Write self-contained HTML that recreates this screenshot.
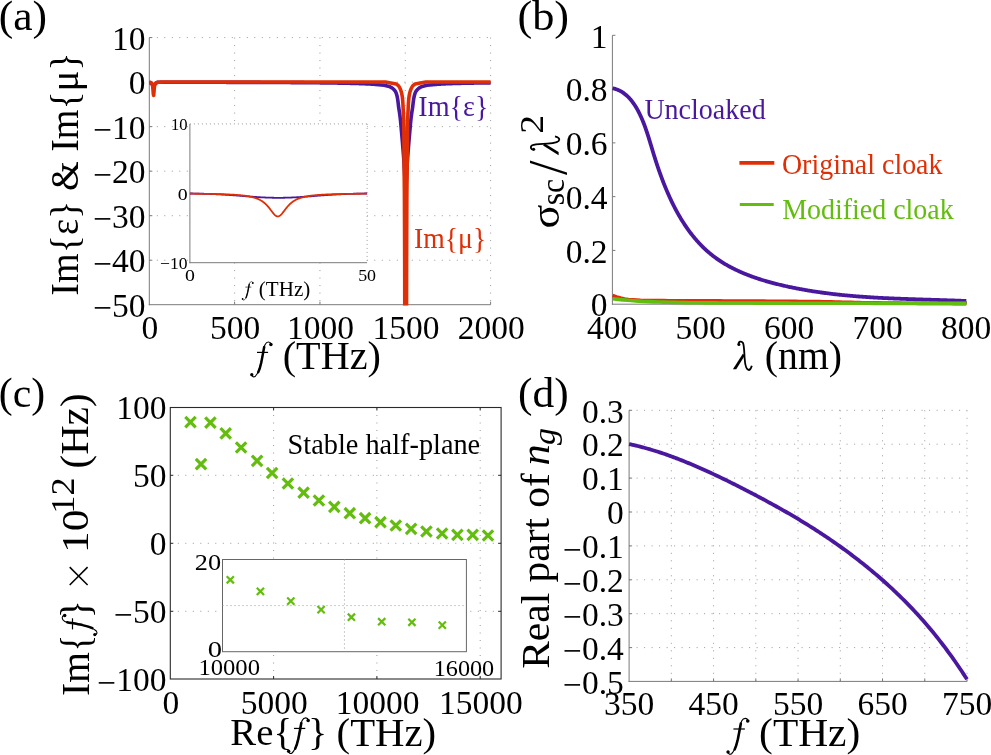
<!DOCTYPE html>
<html><head><meta charset="utf-8"><style>
html,body{margin:0;padding:0;background:#fff;}
svg{display:block;will-change:transform;}
text{font-family:"Liberation Serif", serif;}
</style></head><body>
<svg width="991" height="755" viewBox="0 0 991 755">
<rect width="991" height="755" fill="#fff"/>
<line x1="234.62" y1="37.57" x2="234.62" y2="304.70" stroke="#999999" stroke-width="1" stroke-dasharray="1,6.5"/>
<line x1="319.95" y1="37.57" x2="319.95" y2="304.70" stroke="#999999" stroke-width="1" stroke-dasharray="1,6.5"/>
<line x1="405.27" y1="37.57" x2="405.27" y2="304.70" stroke="#999999" stroke-width="1" stroke-dasharray="1,6.5"/>
<line x1="490.60" y1="37.57" x2="490.60" y2="304.70" stroke="#999999" stroke-width="1" stroke-dasharray="1,6.5"/>
<line x1="149.30" y1="37.57" x2="490.60" y2="37.57" stroke="#999999" stroke-width="1" stroke-dasharray="1,6.5"/>
<line x1="149.30" y1="82.10" x2="490.60" y2="82.10" stroke="#999999" stroke-width="1" stroke-dasharray="1,6.5"/>
<line x1="149.30" y1="126.63" x2="490.60" y2="126.63" stroke="#999999" stroke-width="1" stroke-dasharray="1,6.5"/>
<line x1="149.30" y1="171.16" x2="490.60" y2="171.16" stroke="#999999" stroke-width="1" stroke-dasharray="1,6.5"/>
<line x1="149.30" y1="215.69" x2="490.60" y2="215.69" stroke="#999999" stroke-width="1" stroke-dasharray="1,6.5"/>
<line x1="149.30" y1="260.22" x2="490.60" y2="260.22" stroke="#999999" stroke-width="1" stroke-dasharray="1,6.5"/>
<line x1="149.30" y1="37.57" x2="149.30" y2="305.20" stroke="#7a7a7a" stroke-width="1"/>
<line x1="148.80" y1="304.70" x2="490.60" y2="304.70" stroke="#7a7a7a" stroke-width="1"/>
<line x1="234.62" y1="304.70" x2="234.62" y2="301.70" stroke="#7a7a7a" stroke-width="1"/>
<line x1="319.95" y1="304.70" x2="319.95" y2="301.70" stroke="#7a7a7a" stroke-width="1"/>
<line x1="405.27" y1="304.70" x2="405.27" y2="301.70" stroke="#7a7a7a" stroke-width="1"/>
<line x1="490.60" y1="304.70" x2="490.60" y2="301.70" stroke="#7a7a7a" stroke-width="1"/>
<line x1="149.30" y1="37.57" x2="152.30" y2="37.57" stroke="#7a7a7a" stroke-width="1"/>
<line x1="149.30" y1="82.10" x2="152.30" y2="82.10" stroke="#7a7a7a" stroke-width="1"/>
<line x1="149.30" y1="126.63" x2="152.30" y2="126.63" stroke="#7a7a7a" stroke-width="1"/>
<line x1="149.30" y1="171.16" x2="152.30" y2="171.16" stroke="#7a7a7a" stroke-width="1"/>
<line x1="149.30" y1="215.69" x2="152.30" y2="215.69" stroke="#7a7a7a" stroke-width="1"/>
<line x1="149.30" y1="260.22" x2="152.30" y2="260.22" stroke="#7a7a7a" stroke-width="1"/>
<text x="145.60" y="49.57" font-size="33.5" text-anchor="end" fill="#000">10</text>
<text x="145.60" y="94.10" font-size="33.5" text-anchor="end" fill="#000">0</text>
<text x="145.60" y="138.63" font-size="33.5" text-anchor="end" fill="#000"><tspan dy="2.50">&#8722;</tspan><tspan dy="-2.50">10</tspan></text>
<text x="145.60" y="183.16" font-size="33.5" text-anchor="end" fill="#000"><tspan dy="2.50">&#8722;</tspan><tspan dy="-2.50">20</tspan></text>
<text x="145.60" y="227.69" font-size="33.5" text-anchor="end" fill="#000"><tspan dy="2.50">&#8722;</tspan><tspan dy="-2.50">30</tspan></text>
<text x="145.60" y="272.22" font-size="33.5" text-anchor="end" fill="#000"><tspan dy="2.50">&#8722;</tspan><tspan dy="-2.50">40</tspan></text>
<text x="145.60" y="316.75" font-size="33.5" text-anchor="end" fill="#000"><tspan dy="2.50">&#8722;</tspan><tspan dy="-2.50">50</tspan></text>
<text x="149.90" y="339.10" font-size="33.5" text-anchor="middle" fill="#000">0</text>
<text x="235.22" y="339.10" font-size="33.5" text-anchor="middle" fill="#000">500</text>
<text x="320.55" y="339.10" font-size="33.5" text-anchor="middle" fill="#000">1000</text>
<text x="405.88" y="339.10" font-size="33.5" text-anchor="middle" fill="#000">1500</text>
<text x="491.20" y="339.10" font-size="33.5" text-anchor="middle" fill="#000">2000</text>
<clipPath id="clipA"><rect x="140" y="0" width="360" height="305.50"/></clipPath>
<g clip-path="url(#clipA)">
<path d="M149.30,82.34 L149.62,82.41 L149.95,82.51 L150.27,82.65 L150.60,82.83 L150.92,83.07 L151.24,83.34 L151.57,83.66 L151.89,83.99 L152.21,84.32 L152.54,84.63 L152.86,84.87 L153.19,85.04 L153.51,85.11 L153.83,85.08 L154.16,84.94 L154.48,84.72 L154.80,84.43 L155.13,84.11 L155.45,83.77 L155.78,83.45 L156.10,83.16 L156.42,82.92 L156.75,82.71 L157.07,82.56 L157.40,82.45 L157.72,82.37 L158.04,82.31 L158.37,82.28 L158.69,82.25 L159.01,82.24 L159.34,82.23 L159.66,82.23 L159.99,82.23 L160.31,82.23 L160.63,82.23 L160.96,82.23 L161.28,82.23 L161.61,82.23 L161.93,82.23 L162.25,82.23 L162.58,82.23 L162.90,82.23 L163.22,82.23 L163.55,82.23 L163.87,82.23 L164.20,82.23 L164.52,82.23 L164.84,82.23 L165.17,82.23 L165.49,82.23 L165.81,82.23 L166.14,82.23 L166.46,82.23 L166.79,82.23 L167.11,82.23 L167.43,82.23 L167.76,82.23 L168.08,82.23 L168.41,82.24 L168.73,82.24 L169.05,82.24 L169.38,82.24 L169.70,82.24 L170.02,82.24 L170.35,82.24 L170.67,82.24 L171.00,82.24 L171.32,82.24 L171.64,82.24 L171.97,82.24 L172.29,82.24 L172.62,82.24 L172.94,82.24 L173.26,82.24 L173.59,82.24 L173.91,82.24 L174.23,82.24 L174.56,82.24 L174.88,82.24 L175.21,82.24 L175.53,82.24 L175.85,82.24 L176.18,82.24 L176.50,82.24 L176.82,82.24 L177.15,82.25 L177.47,82.25 L177.80,82.25 L178.12,82.25 L178.44,82.25 L178.77,82.25 L179.09,82.25 L179.42,82.25 L179.74,82.25 L180.06,82.25 L180.39,82.25 L180.71,82.25 L181.03,82.25 L181.36,82.25 L181.68,82.25 L182.01,82.25 L182.33,82.25 L182.65,82.25 L182.98,82.25 L183.30,82.25 L183.62,82.25 L183.95,82.25 L184.27,82.25 L184.60,82.25 L184.92,82.25 L185.24,82.26 L185.57,82.26 L185.89,82.26 L186.22,82.26 L186.54,82.26 L186.86,82.26 L187.19,82.26 L187.51,82.26 L187.83,82.26 L188.16,82.26 L188.48,82.26 L188.81,82.26 L189.13,82.26 L189.45,82.26 L189.78,82.26 L190.10,82.26 L190.43,82.26 L190.75,82.26 L191.07,82.26 L191.40,82.26 L191.72,82.26 L192.04,82.26 L192.37,82.26 L192.69,82.27 L193.02,82.27 L193.34,82.27 L193.66,82.27 L193.99,82.27 L194.31,82.27 L194.63,82.27 L194.96,82.27 L195.28,82.27 L195.61,82.27 L195.93,82.27 L196.25,82.27 L196.58,82.27 L196.90,82.27 L197.23,82.27 L197.55,82.27 L197.87,82.27 L198.20,82.27 L198.52,82.27 L198.84,82.27 L199.17,82.27 L199.49,82.28 L199.82,82.28 L200.14,82.28 L200.46,82.28 L200.79,82.28 L201.11,82.28 L201.43,82.28 L201.76,82.28 L202.08,82.28 L202.41,82.28 L202.73,82.28 L203.05,82.28 L203.38,82.28 L203.70,82.28 L204.03,82.28 L204.35,82.28 L204.67,82.28 L205.00,82.28 L205.32,82.28 L205.64,82.29 L205.97,82.29 L206.29,82.29 L206.62,82.29 L206.94,82.29 L207.26,82.29 L207.59,82.29 L207.91,82.29 L208.24,82.29 L208.56,82.29 L208.88,82.29 L209.21,82.29 L209.53,82.29 L209.85,82.29 L210.18,82.29 L210.50,82.29 L210.83,82.29 L211.15,82.29 L211.47,82.30 L211.80,82.30 L212.12,82.30 L212.44,82.30 L212.77,82.30 L213.09,82.30 L213.42,82.30 L213.74,82.30 L214.06,82.30 L214.39,82.30 L214.71,82.30 L215.04,82.30 L215.36,82.30 L215.68,82.30 L216.01,82.30 L216.33,82.30 L216.65,82.31 L216.98,82.31 L217.30,82.31 L217.63,82.31 L217.95,82.31 L218.27,82.31 L218.60,82.31 L218.92,82.31 L219.25,82.31 L219.57,82.31 L219.89,82.31 L220.22,82.31 L220.54,82.31 L220.86,82.31 L221.19,82.31 L221.51,82.32 L221.84,82.32 L222.16,82.32 L222.48,82.32 L222.81,82.32 L223.13,82.32 L223.45,82.32 L223.78,82.32 L224.10,82.32 L224.43,82.32 L224.75,82.32 L225.07,82.32 L225.40,82.32 L225.72,82.32 L226.05,82.32 L226.37,82.33 L226.69,82.33 L227.02,82.33 L227.34,82.33 L227.66,82.33 L227.99,82.33 L228.31,82.33 L228.64,82.33 L228.96,82.33 L229.28,82.33 L229.61,82.33 L229.93,82.33 L230.25,82.33 L230.58,82.34 L230.90,82.34 L231.23,82.34 L231.55,82.34 L231.87,82.34 L232.20,82.34 L232.52,82.34 L232.85,82.34 L233.17,82.34 L233.49,82.34 L233.82,82.34 L234.14,82.34 L234.46,82.34 L234.79,82.35 L235.11,82.35 L235.44,82.35 L235.76,82.35 L236.08,82.35 L236.41,82.35 L236.73,82.35 L237.06,82.35 L237.38,82.35 L237.70,82.35 L238.03,82.35 L238.35,82.35 L238.67,82.36 L239.00,82.36 L239.32,82.36 L239.65,82.36 L239.97,82.36 L240.29,82.36 L240.62,82.36 L240.94,82.36 L241.26,82.36 L241.59,82.36 L241.91,82.36 L242.24,82.37 L242.56,82.37 L242.88,82.37 L243.21,82.37 L243.53,82.37 L243.86,82.37 L244.18,82.37 L244.50,82.37 L244.83,82.37 L245.15,82.37 L245.47,82.37 L245.80,82.38 L246.12,82.38 L246.45,82.38 L246.77,82.38 L247.09,82.38 L247.42,82.38 L247.74,82.38 L248.07,82.38 L248.39,82.38 L248.71,82.38 L249.04,82.39 L249.36,82.39 L249.68,82.39 L250.01,82.39 L250.33,82.39 L250.66,82.39 L250.98,82.39 L251.30,82.39 L251.63,82.39 L251.95,82.40 L252.27,82.40 L252.60,82.40 L252.92,82.40 L253.25,82.40 L253.57,82.40 L253.89,82.40 L254.22,82.40 L254.54,82.40 L254.87,82.41 L255.19,82.41 L255.51,82.41 L255.84,82.41 L256.16,82.41 L256.48,82.41 L256.81,82.41 L257.13,82.41 L257.46,82.41 L257.78,82.42 L258.10,82.42 L258.43,82.42 L258.75,82.42 L259.07,82.42 L259.40,82.42 L259.72,82.42 L260.05,82.42 L260.37,82.42 L260.69,82.43 L261.02,82.43 L261.34,82.43 L261.67,82.43 L261.99,82.43 L262.31,82.43 L262.64,82.43 L262.96,82.43 L263.28,82.44 L263.61,82.44 L263.93,82.44 L264.26,82.44 L264.58,82.44 L264.90,82.44 L265.23,82.44 L265.55,82.45 L265.88,82.45 L266.20,82.45 L266.52,82.45 L266.85,82.45 L267.17,82.45 L267.49,82.45 L267.82,82.45 L268.14,82.46 L268.47,82.46 L268.79,82.46 L269.11,82.46 L269.44,82.46 L269.76,82.46 L270.08,82.46 L270.41,82.47 L270.73,82.47 L271.06,82.47 L271.38,82.47 L271.70,82.47 L272.03,82.47 L272.35,82.47 L272.68,82.48 L273.00,82.48 L273.32,82.48 L273.65,82.48 L273.97,82.48 L274.29,82.48 L274.62,82.49 L274.94,82.49 L275.27,82.49 L275.59,82.49 L275.91,82.49 L276.24,82.49 L276.56,82.50 L276.88,82.50 L277.21,82.50 L277.53,82.50 L277.86,82.50 L278.18,82.50 L278.50,82.50 L278.83,82.51 L279.15,82.51 L279.48,82.51 L279.80,82.51 L280.12,82.51 L280.45,82.52 L280.77,82.52 L281.09,82.52 L281.42,82.52 L281.74,82.52 L282.07,82.52 L282.39,82.53 L282.71,82.53 L283.04,82.53 L283.36,82.53 L283.69,82.53 L284.01,82.53 L284.33,82.54 L284.66,82.54 L284.98,82.54 L285.30,82.54 L285.63,82.54 L285.95,82.55 L286.28,82.55 L286.60,82.55 L286.92,82.55 L287.25,82.55 L287.57,82.56 L287.89,82.56 L288.22,82.56 L288.54,82.56 L288.87,82.56 L289.19,82.57 L289.51,82.57 L289.84,82.57 L290.16,82.57 L290.49,82.57 L290.81,82.58 L291.13,82.58 L291.46,82.58 L291.78,82.58 L292.10,82.58 L292.43,82.59 L292.75,82.59 L293.08,82.59 L293.40,82.59 L293.72,82.59 L294.05,82.60 L294.37,82.60 L294.70,82.60 L295.02,82.60 L295.34,82.61 L295.67,82.61 L295.99,82.61 L296.31,82.61 L296.64,82.62 L296.96,82.62 L297.29,82.62 L297.61,82.62 L297.93,82.62 L298.26,82.63 L298.58,82.63 L298.90,82.63 L299.23,82.63 L299.55,82.64 L299.88,82.64 L300.20,82.64 L300.52,82.64 L300.85,82.65 L301.17,82.65 L301.50,82.65 L301.82,82.65 L302.14,82.66 L302.47,82.66 L302.79,82.66 L303.11,82.66 L303.44,82.67 L303.76,82.67 L304.09,82.67 L304.41,82.68 L304.73,82.68 L305.06,82.68 L305.38,82.68 L305.70,82.69 L306.03,82.69 L306.35,82.69 L306.68,82.70 L307.00,82.70 L307.32,82.70 L307.65,82.70 L307.97,82.71 L308.30,82.71 L308.62,82.71 L308.94,82.72 L309.27,82.72 L309.59,82.72 L309.91,82.72 L310.24,82.73 L310.56,82.73 L310.89,82.73 L311.21,82.74 L311.53,82.74 L311.86,82.74 L312.18,82.75 L312.51,82.75 L312.83,82.75 L313.15,82.76 L313.48,82.76 L313.80,82.76 L314.12,82.77 L314.45,82.77 L314.77,82.77 L315.10,82.78 L315.42,82.78 L315.74,82.78 L316.07,82.79 L316.39,82.79 L316.71,82.79 L317.04,82.80 L317.36,82.80 L317.69,82.80 L318.01,82.81 L318.33,82.81 L318.66,82.81 L318.98,82.82 L319.31,82.82 L319.63,82.82 L319.95,82.83 L320.28,82.83 L320.60,82.84 L320.92,82.84 L321.25,82.84 L321.57,82.85 L321.90,82.85 L322.22,82.86 L322.54,82.86 L322.87,82.86 L323.19,82.87 L323.52,82.87 L323.84,82.88 L324.16,82.88 L324.49,82.88 L324.81,82.89 L325.13,82.89 L325.46,82.90 L325.78,82.90 L326.11,82.90 L326.43,82.91 L326.75,82.91 L327.08,82.92 L327.40,82.92 L327.72,82.93 L328.05,82.93 L328.37,82.94 L328.70,82.94 L329.02,82.94 L329.34,82.95 L329.67,82.95 L329.99,82.96 L330.32,82.96 L330.64,82.97 L330.96,82.97 L331.29,82.98 L331.61,82.98 L331.93,82.99 L332.26,82.99 L332.58,83.00 L332.91,83.00 L333.23,83.01 L333.55,83.01 L333.88,83.02 L334.20,83.02 L334.52,83.03 L334.85,83.03 L335.17,83.04 L335.50,83.04 L335.82,83.05 L336.14,83.05 L336.47,83.06 L336.79,83.06 L337.12,83.07 L337.44,83.07 L337.76,83.08 L338.09,83.09 L338.41,83.09 L338.73,83.10 L339.06,83.10 L339.38,83.11 L339.71,83.11 L340.03,83.12 L340.35,83.13 L340.68,83.13 L341.00,83.14 L341.33,83.14 L341.65,83.15 L341.97,83.16 L342.30,83.16 L342.62,83.17 L342.94,83.18 L343.27,83.18 L343.59,83.19 L343.92,83.20 L344.24,83.20 L344.56,83.21 L344.89,83.22 L345.21,83.22 L345.53,83.23 L345.86,83.24 L346.18,83.24 L346.51,83.25 L346.83,83.26 L347.15,83.26 L347.48,83.27 L347.80,83.28 L348.13,83.29 L348.45,83.29 L348.77,83.30 L349.10,83.31 L349.42,83.32 L349.74,83.32 L350.07,83.33 L350.39,83.34 L350.72,83.35 L351.04,83.35 L351.36,83.36 L351.69,83.37 L352.01,83.38 L352.33,83.39 L352.66,83.40 L352.98,83.40 L353.31,83.41 L353.63,83.42 L353.95,83.43 L354.28,83.44 L354.60,83.45 L354.93,83.46 L355.25,83.47 L355.57,83.48 L355.90,83.48 L356.22,83.49 L356.54,83.50 L356.87,83.51 L357.19,83.52 L357.52,83.53 L357.84,83.54 L358.16,83.55 L358.49,83.56 L358.81,83.57 L359.14,83.58 L359.46,83.59 L359.78,83.61 L360.11,83.62 L360.43,83.63 L360.75,83.64 L361.08,83.65 L361.40,83.66 L361.73,83.67 L362.05,83.68 L362.37,83.70 L362.70,83.71 L363.02,83.72 L363.34,83.73 L363.67,83.75 L363.99,83.76 L364.32,83.77 L364.64,83.78 L364.96,83.80 L365.29,83.81 L365.61,83.83 L365.94,83.84 L366.26,83.85 L366.58,83.87 L366.91,83.88 L367.23,83.90 L367.55,83.91 L367.88,83.93 L368.20,83.95 L368.53,83.96 L368.85,83.98 L369.17,83.99 L369.50,84.01 L369.82,84.03 L370.15,84.05 L370.47,84.06 L370.79,84.08 L371.12,84.10 L371.44,84.12 L371.76,84.14 L372.09,84.16 L372.41,84.18 L372.74,84.20 L373.06,84.22 L373.38,84.25 L373.71,84.27 L374.03,84.29 L374.35,84.31 L374.68,84.34 L375.00,84.36 L375.33,84.39 L375.65,84.41 L375.65,84.45 L384.18,85.29 L388.18,86.14 L390.42,86.98 L391.90,87.83 L392.99,88.67 L393.86,89.52 L394.62,90.36 L395.25,91.21 L395.73,92.05 L396.08,92.90 L396.39,93.74 L396.66,94.59 L396.89,95.43 L397.10,96.28 L397.28,97.12 L397.44,97.97 L397.59,98.81 L397.72,99.66 L397.84,100.50 L397.95,101.35 L398.06,102.19 L398.16,103.04 L398.26,103.88 L398.36,104.73 L398.46,105.57 L398.56,106.42 L398.67,107.26 L398.79,108.11 L398.92,108.95 L399.05,109.80 L399.19,110.64 L399.32,111.49 L399.45,112.33 L399.58,113.18 L399.70,114.02 L399.81,114.87 L399.92,115.71 L400.03,116.56 L400.14,117.40 L400.24,118.25 L400.34,119.09 L400.44,119.94 L400.53,120.78 L400.61,121.63 L400.69,122.47 L400.77,123.32 L400.85,124.16 L400.92,125.01 L400.99,125.85 L401.06,126.70 L401.14,127.54 L401.21,128.39 L401.29,129.23 L401.36,130.08 L401.44,130.92 L401.51,131.77 L401.59,132.61 L401.66,133.46 L401.74,134.30 L401.81,135.15 L401.89,135.99 L401.96,136.84 L402.03,137.68 L402.11,138.53 L402.18,139.37 L402.25,140.22 L402.32,141.06 L402.40,141.91 L402.47,142.75 L402.54,143.60 L402.60,144.44 L402.67,145.29 L402.74,146.13 L402.81,146.98 L402.88,147.82 L402.95,148.67 L403.02,149.51 L403.08,150.36 L403.15,151.20 L403.22,152.05 L403.29,152.89 L403.35,153.74 L403.42,154.58 L403.48,155.43 L403.55,156.27 L403.61,157.12 L403.68,157.96 L403.74,158.81 L403.80,159.65 L403.86,160.50 L403.92,161.34 L403.97,162.19 L404.03,163.03 L404.08,163.88 L404.13,164.72 L404.18,165.57 L404.23,166.41 L404.28,167.26 L404.33,168.10 L404.38,168.95 L404.43,169.79 L404.48,170.64 L404.52,171.48 L404.57,172.33 L404.61,173.17 L404.66,174.02 L404.70,174.86 L404.74,175.71 L404.78,176.55 L404.82,177.40 L404.86,178.24 L404.90,179.09 L404.94,179.93 L404.98,180.78 L405.01,181.62 L405.05,182.47 L405.08,183.31 L405.12,184.16 L405.15,185.00 L406.15,185.00 L406.18,184.16 L406.22,183.31 L406.25,182.47 L406.29,181.62 L406.32,180.78 L406.36,179.93 L406.40,179.09 L406.44,178.24 L406.48,177.40 L406.52,176.55 L406.56,175.71 L406.60,174.86 L406.64,174.02 L406.69,173.17 L406.73,172.33 L406.78,171.48 L406.82,170.64 L406.87,169.79 L406.92,168.95 L406.97,168.10 L407.02,167.26 L407.07,166.41 L407.12,165.57 L407.17,164.72 L407.22,163.88 L407.27,163.03 L407.33,162.19 L407.38,161.34 L407.44,160.50 L407.50,159.65 L407.56,158.81 L407.62,157.96 L407.69,157.12 L407.75,156.27 L407.82,155.43 L407.88,154.58 L407.95,153.74 L408.01,152.89 L408.08,152.05 L408.15,151.20 L408.22,150.36 L408.28,149.51 L408.35,148.67 L408.42,147.82 L408.49,146.98 L408.56,146.13 L408.63,145.29 L408.70,144.44 L408.76,143.60 L408.83,142.75 L408.90,141.91 L408.98,141.06 L409.05,140.22 L409.12,139.37 L409.19,138.53 L409.27,137.68 L409.34,136.84 L409.41,135.99 L409.49,135.15 L409.56,134.30 L409.64,133.46 L409.71,132.61 L409.79,131.77 L409.86,130.92 L409.94,130.08 L410.01,129.23 L410.09,128.39 L410.16,127.54 L410.24,126.70 L410.31,125.85 L410.38,125.01 L410.45,124.16 L410.53,123.32 L410.61,122.47 L410.69,121.63 L410.77,120.78 L410.86,119.94 L410.96,119.09 L411.06,118.25 L411.16,117.40 L411.27,116.56 L411.38,115.71 L411.49,114.87 L411.60,114.02 L411.72,113.18 L411.85,112.33 L411.98,111.49 L412.11,110.64 L412.25,109.80 L412.38,108.95 L412.51,108.11 L412.63,107.26 L412.74,106.42 L412.84,105.57 L412.94,104.73 L413.04,103.88 L413.14,103.04 L413.24,102.19 L413.35,101.35 L413.46,100.50 L413.58,99.66 L413.71,98.81 L413.86,97.97 L414.02,97.12 L414.20,96.28 L414.41,95.43 L414.64,94.59 L414.91,93.74 L415.22,92.90 L415.57,92.05 L416.05,91.21 L416.68,90.36 L417.44,89.52 L418.31,88.67 L419.40,87.83 L420.88,86.98 L423.12,86.14 L427.12,85.29 L435.65,84.45 L435.65,84.41 L435.93,84.39 L436.20,84.37 L436.48,84.35 L436.75,84.33 L437.03,84.31 L437.31,84.29 L437.58,84.27 L437.86,84.25 L438.14,84.23 L438.41,84.21 L438.69,84.19 L438.96,84.18 L439.24,84.16 L439.52,84.14 L439.79,84.13 L440.07,84.11 L440.34,84.09 L440.62,84.08 L440.90,84.06 L441.17,84.05 L441.45,84.03 L441.72,84.02 L442.00,84.00 L442.28,83.99 L442.55,83.97 L442.83,83.96 L443.11,83.94 L443.38,83.93 L443.66,83.92 L443.93,83.90 L444.21,83.89 L444.49,83.88 L444.76,83.87 L445.04,83.85 L445.31,83.84 L445.59,83.83 L445.87,83.82 L446.14,83.81 L446.42,83.79 L446.70,83.78 L446.97,83.77 L447.25,83.76 L447.52,83.75 L447.80,83.74 L448.08,83.73 L448.35,83.72 L448.63,83.71 L448.90,83.70 L449.18,83.69 L449.46,83.68 L449.73,83.67 L450.01,83.66 L450.28,83.65 L450.56,83.64 L450.84,83.63 L451.11,83.62 L451.39,83.61 L451.67,83.60 L451.94,83.59 L452.22,83.58 L452.49,83.57 L452.77,83.56 L453.05,83.56 L453.32,83.55 L453.60,83.54 L453.87,83.53 L454.15,83.52 L454.43,83.51 L454.70,83.51 L454.98,83.50 L455.26,83.49 L455.53,83.48 L455.81,83.47 L456.08,83.47 L456.36,83.46 L456.64,83.45 L456.91,83.44 L457.19,83.43 L457.46,83.43 L457.74,83.42 L458.02,83.41 L458.29,83.40 L458.57,83.40 L458.84,83.39 L459.12,83.38 L459.40,83.38 L459.67,83.37 L459.95,83.36 L460.23,83.36 L460.50,83.35 L460.78,83.34 L461.05,83.34 L461.33,83.33 L461.61,83.32 L461.88,83.32 L462.16,83.31 L462.43,83.30 L462.71,83.30 L462.99,83.29 L463.26,83.28 L463.54,83.28 L463.82,83.27 L464.09,83.27 L464.37,83.26 L464.64,83.25 L464.92,83.25 L465.20,83.24 L465.47,83.24 L465.75,83.23 L466.02,83.22 L466.30,83.22 L466.58,83.21 L466.85,83.21 L467.13,83.20 L467.41,83.20 L467.68,83.19 L467.96,83.18 L468.23,83.18 L468.51,83.17 L468.79,83.17 L469.06,83.16 L469.34,83.16 L469.61,83.15 L469.89,83.15 L470.17,83.14 L470.44,83.14 L470.72,83.13 L470.99,83.13 L471.27,83.12 L471.55,83.12 L471.82,83.11 L472.10,83.11 L472.38,83.10 L472.65,83.10 L472.93,83.09 L473.20,83.09 L473.48,83.08 L473.76,83.08 L474.03,83.07 L474.31,83.07 L474.58,83.06 L474.86,83.06 L475.14,83.05 L475.41,83.05 L475.69,83.04 L475.97,83.04 L476.24,83.04 L476.52,83.03 L476.79,83.03 L477.07,83.02 L477.35,83.02 L477.62,83.01 L477.90,83.01 L478.17,83.00 L478.45,83.00 L478.73,83.00 L479.00,82.99 L479.28,82.99 L479.55,82.98 L479.83,82.98 L480.11,82.98 L480.38,82.97 L480.66,82.97 L480.94,82.96 L481.21,82.96 L481.49,82.96 L481.76,82.95 L482.04,82.95 L482.32,82.94 L482.59,82.94 L482.87,82.94 L483.14,82.93 L483.42,82.93 L483.70,82.92 L483.97,82.92 L484.25,82.92 L484.53,82.91 L484.80,82.91 L485.08,82.91 L485.35,82.90 L485.63,82.90 L485.91,82.90 L486.18,82.89 L486.46,82.89 L486.73,82.88 L487.01,82.88 L487.29,82.88 L487.56,82.87 L487.84,82.87 L488.11,82.87 L488.39,82.86 L488.67,82.86 L488.94,82.86 L489.22,82.85 L489.50,82.85 L489.77,82.85 L490.05,82.84 L490.32,82.84 L490.60,82.84" fill="none" stroke="#49189e" stroke-width="3.6" stroke-linejoin="round" stroke-linecap="butt"/>
<path d="M149.30,82.29 L149.64,82.34 L149.98,82.39 L150.31,82.47 L150.65,82.58 L150.99,82.69 L151.33,82.97 L151.66,83.26 L152.00,83.92 L152.34,85.08 L152.68,86.24 L153.02,90.10 L153.35,94.26 L153.69,95.33 L154.03,91.16 L154.37,87.00 L154.71,85.38 L155.04,84.22 L155.38,83.33 L155.72,83.04 L156.06,82.75 L156.39,82.61 L156.73,82.50 L157.07,82.41 L157.41,82.35 L157.75,82.30 L158.08,82.27 L158.42,82.24 L158.76,82.21 L159.10,82.20 L159.44,82.18 L159.77,82.17 L160.11,82.15 L160.45,82.14 L160.79,82.14 L161.12,82.13 L161.46,82.12 L161.80,82.12 L162.14,82.05 L162.48,82.05 L162.81,82.05 L163.15,82.05 L163.49,82.05 L163.83,82.05 L164.16,82.05 L164.50,82.05 L164.84,82.05 L165.18,82.05 L165.52,82.05 L165.85,82.05 L166.19,82.05 L166.53,82.05 L166.87,82.05 L167.21,82.05 L167.54,82.05 L167.88,82.05 L168.22,82.05 L168.56,82.05 L168.89,82.05 L169.23,82.05 L169.57,82.05 L169.91,82.05 L170.25,82.05 L170.58,82.05 L170.92,82.05 L171.26,82.05 L171.60,82.05 L171.94,82.05 L172.27,82.05 L172.61,82.05 L172.95,82.05 L173.29,82.05 L173.62,82.05 L173.96,82.05 L174.30,82.05 L174.64,82.05 L174.98,82.05 L175.31,82.05 L175.65,82.05 L175.99,82.05 L176.33,82.05 L176.67,82.05 L177.00,82.05 L177.34,82.05 L177.68,82.05 L178.02,82.05 L178.35,82.05 L178.69,82.05 L179.03,82.05 L179.37,82.05 L179.71,82.05 L180.04,82.05 L180.38,82.05 L180.72,82.05 L181.06,82.05 L181.39,82.05 L181.73,82.05 L182.07,82.05 L182.41,82.05 L182.75,82.05 L183.08,82.05 L183.42,82.05 L183.76,82.05 L184.10,82.05 L184.44,82.05 L184.77,82.05 L185.11,82.05 L185.45,82.05 L185.79,82.05 L186.12,82.05 L186.46,82.05 L186.80,82.05 L187.14,82.05 L187.48,82.05 L187.81,82.05 L188.15,82.05 L188.49,82.05 L188.83,82.05 L189.17,82.05 L189.50,82.05 L189.84,82.05 L190.18,82.05 L190.52,82.05 L190.85,82.05 L191.19,82.05 L191.53,82.05 L191.87,82.05 L192.21,82.05 L192.54,82.05 L192.88,82.05 L193.22,82.05 L193.56,82.05 L193.89,82.05 L194.23,82.05 L194.57,82.05 L194.91,82.05 L195.25,82.05 L195.58,82.05 L195.92,82.05 L196.26,82.05 L196.60,82.05 L196.94,82.05 L197.27,82.05 L197.61,82.05 L197.95,82.05 L198.29,82.05 L198.62,82.05 L198.96,82.05 L199.30,82.05 L199.64,82.05 L199.98,82.05 L200.31,82.05 L200.65,82.05 L200.99,82.05 L201.33,82.05 L201.67,82.05 L202.00,82.05 L202.34,82.05 L202.68,82.05 L203.02,82.05 L203.35,82.05 L203.69,82.05 L204.03,82.05 L204.37,82.05 L204.71,82.05 L205.04,82.05 L205.38,82.05 L205.72,82.05 L206.06,82.05 L206.39,82.05 L206.73,82.05 L207.07,82.05 L207.41,82.05 L207.75,82.05 L208.08,82.05 L208.42,82.05 L208.76,82.05 L209.10,82.05 L209.44,82.05 L209.77,82.05 L210.11,82.05 L210.45,82.05 L210.79,82.05 L211.12,82.05 L211.46,82.05 L211.80,82.05 L212.14,82.05 L212.48,82.05 L212.81,82.05 L213.15,82.05 L213.49,82.05 L213.83,82.05 L214.17,82.05 L214.50,82.05 L214.84,82.05 L215.18,82.05 L215.52,82.05 L215.85,82.05 L216.19,82.05 L216.53,82.05 L216.87,82.05 L217.21,82.05 L217.54,82.05 L217.88,82.05 L218.22,82.05 L218.56,82.05 L218.89,82.05 L219.23,82.05 L219.57,82.05 L219.91,82.05 L220.25,82.05 L220.58,82.05 L220.92,82.05 L221.26,82.05 L221.60,82.05 L221.94,82.05 L222.27,82.05 L222.61,82.05 L222.95,82.05 L223.29,82.05 L223.62,82.05 L223.96,82.05 L224.30,82.05 L224.64,82.05 L224.98,82.05 L225.31,82.05 L225.65,82.05 L225.99,82.05 L226.33,82.05 L226.67,82.05 L227.00,82.05 L227.34,82.05 L227.68,82.05 L228.02,82.05 L228.35,82.05 L228.69,82.05 L229.03,82.05 L229.37,82.05 L229.71,82.05 L230.04,82.05 L230.38,82.05 L230.72,82.05 L231.06,82.05 L231.40,82.05 L231.73,82.05 L232.07,82.05 L232.41,82.05 L232.75,82.05 L233.08,82.05 L233.42,82.05 L233.76,82.05 L234.10,82.05 L234.44,82.05 L234.77,82.05 L235.11,82.05 L235.45,82.05 L235.79,82.05 L236.12,82.05 L236.46,82.05 L236.80,82.05 L237.14,82.05 L237.48,82.05 L237.81,82.05 L238.15,82.05 L238.49,82.05 L238.83,82.05 L239.17,82.05 L239.50,82.05 L239.84,82.05 L240.18,82.05 L240.52,82.05 L240.85,82.05 L241.19,82.05 L241.53,82.05 L241.87,82.05 L242.21,82.05 L242.54,82.05 L242.88,82.05 L243.22,82.05 L243.56,82.05 L243.90,82.05 L244.23,82.05 L244.57,82.05 L244.91,82.05 L245.25,82.05 L245.58,82.05 L245.92,82.05 L246.26,82.05 L246.60,82.05 L246.94,82.05 L247.27,82.05 L247.61,82.05 L247.95,82.05 L248.29,82.05 L248.62,82.05 L248.96,82.05 L249.30,82.05 L249.64,82.05 L249.98,82.05 L250.31,82.05 L250.65,82.05 L250.99,82.05 L251.33,82.05 L251.67,82.05 L252.00,82.05 L252.34,82.05 L252.68,82.05 L253.02,82.05 L253.35,82.05 L253.69,82.05 L254.03,82.05 L254.37,82.05 L254.71,82.05 L255.04,82.05 L255.38,82.05 L255.72,82.05 L256.06,82.05 L256.40,82.05 L256.73,82.05 L257.07,82.05 L257.41,82.05 L257.75,82.05 L258.08,82.05 L258.42,82.05 L258.76,82.05 L259.10,82.05 L259.44,82.05 L259.77,82.05 L260.11,82.05 L260.45,82.05 L260.79,82.05 L261.12,82.05 L261.46,82.05 L261.80,82.05 L262.14,82.05 L262.48,82.05 L262.81,82.05 L263.15,82.05 L263.49,82.05 L263.83,82.05 L264.17,82.05 L264.50,82.05 L264.84,82.05 L265.18,82.05 L265.52,82.05 L265.85,82.05 L266.19,82.05 L266.53,82.05 L266.87,82.05 L267.21,82.05 L267.54,82.05 L267.88,82.05 L268.22,82.05 L268.56,82.05 L268.90,82.05 L269.23,82.05 L269.57,82.05 L269.91,82.05 L270.25,82.05 L270.58,82.05 L270.92,82.05 L271.26,82.05 L271.60,82.05 L271.94,82.05 L272.27,82.05 L272.61,82.05 L272.95,82.05 L273.29,82.05 L273.63,82.05 L273.96,82.05 L274.30,82.05 L274.64,82.05 L274.98,82.05 L275.31,82.05 L275.65,82.05 L275.99,82.05 L276.33,82.05 L276.67,82.05 L277.00,82.05 L277.34,82.05 L277.68,82.05 L278.02,82.05 L278.35,82.05 L278.69,82.05 L279.03,82.05 L279.37,82.05 L279.71,82.05 L280.04,82.05 L280.38,82.05 L280.72,82.05 L281.06,82.05 L281.40,82.05 L281.73,82.05 L282.07,82.05 L282.41,82.05 L282.75,82.05 L283.08,82.05 L283.42,82.05 L283.76,82.05 L284.10,82.05 L284.44,82.05 L284.77,82.05 L285.11,82.05 L285.45,82.05 L285.79,82.05 L286.13,82.05 L286.46,82.05 L286.80,82.05 L287.14,82.05 L287.48,82.05 L287.81,82.05 L288.15,82.05 L288.49,82.05 L288.83,82.05 L289.17,82.05 L289.50,82.05 L289.84,82.05 L290.18,82.05 L290.52,82.05 L290.85,82.05 L291.19,82.05 L291.53,82.05 L291.87,82.05 L292.21,82.05 L292.54,82.05 L292.88,82.05 L293.22,82.05 L293.56,82.05 L293.90,82.05 L294.23,82.05 L294.57,82.05 L294.91,82.05 L295.25,82.05 L295.58,82.05 L295.92,82.05 L296.26,82.05 L296.60,82.05 L296.94,82.05 L297.27,82.05 L297.61,82.05 L297.95,82.05 L298.29,82.05 L298.63,82.05 L298.96,82.05 L299.30,82.05 L299.64,82.05 L299.98,82.05 L300.31,82.05 L300.65,82.05 L300.99,82.05 L301.33,82.05 L301.67,82.05 L302.00,82.05 L302.34,82.05 L302.68,82.05 L303.02,82.05 L303.35,82.05 L303.69,82.05 L304.03,82.05 L304.37,82.05 L304.71,82.05 L305.04,82.05 L305.38,82.05 L305.72,82.05 L306.06,82.05 L306.40,82.05 L306.73,82.05 L307.07,82.05 L307.41,82.05 L307.75,82.05 L308.08,82.05 L308.42,82.05 L308.76,82.05 L309.10,82.05 L309.44,82.05 L309.77,82.05 L310.11,82.05 L310.45,82.05 L310.79,82.05 L311.13,82.05 L311.46,82.05 L311.80,82.05 L312.14,82.05 L312.48,82.05 L312.81,82.05 L313.15,82.05 L313.49,82.05 L313.83,82.05 L314.17,82.05 L314.50,82.05 L314.84,82.05 L315.18,82.05 L315.52,82.05 L315.86,82.05 L316.19,82.05 L316.53,82.05 L316.87,82.05 L317.21,82.05 L317.54,82.05 L317.88,82.05 L318.22,82.05 L318.56,82.05 L318.90,82.05 L319.23,82.05 L319.57,82.05 L319.91,82.05 L320.25,82.05 L320.58,82.05 L320.92,82.05 L321.26,82.05 L321.60,82.05 L321.94,82.05 L322.27,82.05 L322.61,82.05 L322.95,82.05 L323.29,82.05 L323.63,82.05 L323.96,82.05 L324.30,82.05 L324.64,82.05 L324.98,82.05 L325.31,82.05 L325.65,82.05 L325.99,82.05 L326.33,82.05 L326.67,82.05 L327.00,82.05 L327.34,82.05 L327.68,82.05 L328.02,82.05 L328.36,82.05 L328.69,82.05 L329.03,82.05 L329.37,82.05 L329.71,82.05 L330.04,82.05 L330.38,82.05 L330.72,82.05 L331.06,82.05 L331.40,82.05 L331.73,82.05 L332.07,82.05 L332.41,82.05 L332.75,82.05 L333.08,82.05 L333.42,82.05 L333.76,82.05 L334.10,82.05 L334.44,82.05 L334.77,82.05 L335.11,82.05 L335.45,82.05 L335.79,82.05 L336.13,82.05 L336.46,82.05 L336.80,82.05 L337.14,82.05 L337.48,82.05 L337.81,82.05 L338.15,82.05 L338.49,82.05 L338.83,82.05 L339.17,82.05 L339.50,82.05 L339.84,82.05 L340.18,82.05 L340.52,82.05 L340.86,82.05 L341.19,82.05 L341.53,82.05 L341.87,82.05 L342.21,82.05 L342.54,82.05 L342.88,82.05 L343.22,82.05 L343.56,82.05 L343.90,82.05 L344.23,82.05 L344.57,82.05 L344.91,82.05 L345.25,82.05 L345.58,82.05 L345.92,82.05 L346.26,82.05 L346.60,82.05 L346.94,82.05 L347.27,82.05 L347.61,82.05 L347.95,82.05 L348.29,82.05 L348.63,82.05 L348.96,82.05 L349.30,82.05 L349.64,82.05 L349.98,82.05 L350.31,82.05 L350.65,82.05 L350.99,82.05 L351.33,82.05 L351.67,82.05 L352.00,82.05 L352.34,82.05 L352.68,82.05 L353.02,82.05 L353.36,82.05 L353.69,82.05 L354.03,82.05 L354.37,82.05 L354.71,82.05 L355.04,82.05 L355.38,82.05 L355.72,82.05 L356.06,82.05 L356.40,82.05 L356.73,82.05 L357.07,82.05 L357.41,82.05 L357.75,82.05 L358.08,82.05 L358.42,82.05 L358.76,82.05 L359.10,82.05 L359.44,82.05 L359.77,82.05 L360.11,82.05 L360.45,82.05 L360.79,82.05 L361.13,82.05 L361.46,82.05 L361.80,82.05 L362.14,82.05 L362.48,82.05 L362.81,82.05 L363.15,82.05 L363.49,82.05 L363.83,82.05 L364.17,82.05 L364.50,82.05 L364.84,82.05 L365.18,82.05 L365.52,82.05 L365.86,82.05 L366.19,82.05 L366.53,82.05 L366.87,82.05 L367.21,82.05 L367.54,82.05 L367.88,82.05 L368.22,82.05 L368.56,82.05 L368.90,82.05 L369.23,82.05 L369.57,82.05 L369.91,82.05 L370.25,82.05 L370.59,82.05 L370.92,82.05 L371.26,82.05 L371.60,82.05 L371.94,82.05 L372.27,82.05 L372.61,82.05 L372.95,82.05 L373.29,82.05 L373.63,82.05 L373.96,82.05 L374.30,82.05 L374.64,82.05 L374.98,82.05 L375.31,82.05 L375.65,82.05 L375.99,82.05 L376.33,82.05 L376.67,82.05 L377.00,82.05 L377.34,82.05 L377.68,82.05 L378.02,82.05 L378.36,82.05 L378.69,82.05 L379.03,82.05 L379.37,82.05 L379.71,82.05 L380.04,82.05 L380.38,82.05 L380.72,82.05 L381.06,82.05 L381.40,82.05 L381.73,82.05 L382.07,82.05 L382.41,82.05 L382.75,82.05 L383.09,82.05 L383.42,82.05 L383.76,82.05 L384.10,82.05 L384.44,82.05 L384.77,82.05 L385.11,82.05 L385.45,82.05 L385.45,82.05 L396.24,83.98 L398.59,85.91 L399.78,87.85 L400.60,89.78 L401.23,91.71 L401.73,93.64 L402.10,95.58 L402.38,97.51 L402.59,99.44 L402.75,101.37 L402.88,103.31 L402.99,105.24 L403.08,107.17 L403.16,109.10 L403.25,111.04 L403.34,112.97 L403.43,114.90 L403.52,116.83 L403.59,118.76 L403.66,120.70 L403.71,122.63 L403.75,124.56 L403.78,126.49 L403.80,128.43 L403.83,130.36 L403.85,132.29 L403.87,134.22 L403.88,136.16 L403.90,138.09 L403.91,140.02 L403.92,141.95 L403.94,143.89 L403.95,145.82 L403.96,147.75 L403.97,149.68 L403.99,151.61 L404.00,153.55 L404.01,155.48 L404.03,157.41 L404.04,159.34 L404.06,161.28 L404.08,163.21 L404.10,165.14 L404.12,167.07 L404.14,169.01 L404.17,170.94 L404.19,172.87 L404.21,174.80 L404.23,176.74 L404.26,178.67 L404.28,180.60 L404.30,182.53 L404.32,184.46 L404.34,186.40 L404.36,188.33 L404.38,190.26 L404.40,192.19 L404.41,194.13 L404.43,196.06 L404.44,197.99 L404.45,199.92 L404.46,201.86 L404.47,203.79 L404.48,205.72 L404.48,207.65 L404.49,209.59 L404.50,211.52 L404.51,213.45 L404.52,215.38 L404.53,217.31 L404.53,219.25 L404.54,221.18 L404.55,223.11 L404.56,225.04 L404.57,226.98 L404.57,228.91 L404.58,230.84 L404.59,232.77 L404.60,234.71 L404.60,236.64 L404.61,238.57 L404.62,240.50 L404.62,242.44 L404.63,244.37 L404.64,246.30 L404.64,248.23 L404.65,250.16 L404.65,252.10 L404.66,254.03 L404.66,255.96 L404.67,257.89 L404.68,259.83 L404.68,261.76 L404.69,263.69 L404.69,265.62 L404.70,267.56 L404.70,269.49 L404.70,271.42 L404.71,273.35 L404.71,275.29 L404.72,277.22 L404.72,279.15 L404.72,281.08 L404.73,283.01 L404.73,284.95 L404.73,286.88 L404.73,288.81 L404.74,290.74 L404.74,292.68 L404.74,294.61 L404.74,296.54 L404.74,298.47 L404.75,300.41 L404.75,302.34 L404.75,304.27 L404.75,306.20 L404.75,308.14 L404.75,310.07 L404.75,312.00 L406.55,312.00 L406.55,310.07 L406.55,308.14 L406.55,306.20 L406.55,304.27 L406.55,302.34 L406.55,300.41 L406.56,298.47 L406.56,296.54 L406.56,294.61 L406.56,292.68 L406.56,290.74 L406.57,288.81 L406.57,286.88 L406.57,284.95 L406.57,283.01 L406.58,281.08 L406.58,279.15 L406.58,277.22 L406.59,275.29 L406.59,273.35 L406.60,271.42 L406.60,269.49 L406.60,267.56 L406.61,265.62 L406.61,263.69 L406.62,261.76 L406.62,259.83 L406.63,257.89 L406.64,255.96 L406.64,254.03 L406.65,252.10 L406.65,250.16 L406.66,248.23 L406.66,246.30 L406.67,244.37 L406.68,242.44 L406.68,240.50 L406.69,238.57 L406.70,236.64 L406.70,234.71 L406.71,232.77 L406.72,230.84 L406.73,228.91 L406.73,226.98 L406.74,225.04 L406.75,223.11 L406.76,221.18 L406.77,219.25 L406.77,217.31 L406.78,215.38 L406.79,213.45 L406.80,211.52 L406.81,209.59 L406.82,207.65 L406.82,205.72 L406.83,203.79 L406.84,201.86 L406.85,199.92 L406.86,197.99 L406.87,196.06 L406.89,194.13 L406.90,192.19 L406.92,190.26 L406.94,188.33 L406.96,186.40 L406.98,184.46 L407.00,182.53 L407.02,180.60 L407.04,178.67 L407.07,176.74 L407.09,174.80 L407.11,172.87 L407.13,170.94 L407.16,169.01 L407.18,167.07 L407.20,165.14 L407.22,163.21 L407.24,161.28 L407.26,159.34 L407.27,157.41 L407.29,155.48 L407.30,153.55 L407.31,151.61 L407.33,149.68 L407.34,147.75 L407.35,145.82 L407.36,143.89 L407.38,141.95 L407.39,140.02 L407.40,138.09 L407.42,136.16 L407.43,134.22 L407.45,132.29 L407.47,130.36 L407.50,128.43 L407.52,126.49 L407.55,124.56 L407.59,122.63 L407.64,120.70 L407.71,118.76 L407.78,116.83 L407.87,114.90 L407.96,112.97 L408.05,111.04 L408.14,109.10 L408.22,107.17 L408.31,105.24 L408.42,103.31 L408.55,101.37 L408.71,99.44 L408.92,97.51 L409.20,95.58 L409.57,93.64 L410.07,91.71 L410.70,89.78 L411.52,87.85 L412.71,85.91 L415.06,83.98 L425.85,82.05 L425.85,82.05 L426.18,82.05 L426.50,82.05 L426.83,82.05 L427.15,82.05 L427.48,82.05 L427.80,82.05 L428.13,82.05 L428.45,82.05 L428.78,82.05 L429.10,82.05 L429.43,82.05 L429.75,82.05 L430.08,82.05 L430.41,82.05 L430.73,82.05 L431.06,82.05 L431.38,82.05 L431.71,82.05 L432.03,82.05 L432.36,82.05 L432.68,82.05 L433.01,82.05 L433.33,82.05 L433.66,82.05 L433.98,82.05 L434.31,82.05 L434.64,82.05 L434.96,82.05 L435.29,82.05 L435.61,82.05 L435.94,82.05 L436.26,82.05 L436.59,82.05 L436.91,82.05 L437.24,82.05 L437.56,82.05 L437.89,82.05 L438.21,82.05 L438.54,82.05 L438.87,82.05 L439.19,82.05 L439.52,82.05 L439.84,82.05 L440.17,82.05 L440.49,82.05 L440.82,82.05 L441.14,82.05 L441.47,82.05 L441.79,82.05 L442.12,82.05 L442.44,82.05 L442.77,82.05 L443.09,82.05 L443.42,82.05 L443.75,82.05 L444.07,82.05 L444.40,82.05 L444.72,82.05 L445.05,82.05 L445.37,82.05 L445.70,82.05 L446.02,82.05 L446.35,82.05 L446.67,82.05 L447.00,82.05 L447.32,82.05 L447.65,82.05 L447.98,82.05 L448.30,82.05 L448.63,82.05 L448.95,82.05 L449.28,82.05 L449.60,82.05 L449.93,82.05 L450.25,82.05 L450.58,82.05 L450.90,82.05 L451.23,82.05 L451.55,82.05 L451.88,82.05 L452.21,82.05 L452.53,82.05 L452.86,82.05 L453.18,82.05 L453.51,82.05 L453.83,82.05 L454.16,82.05 L454.48,82.05 L454.81,82.05 L455.13,82.05 L455.46,82.05 L455.78,82.05 L456.11,82.05 L456.44,82.05 L456.76,82.05 L457.09,82.05 L457.41,82.05 L457.74,82.05 L458.06,82.05 L458.39,82.05 L458.71,82.05 L459.04,82.05 L459.36,82.05 L459.69,82.05 L460.01,82.05 L460.34,82.05 L460.67,82.05 L460.99,82.05 L461.32,82.05 L461.64,82.05 L461.97,82.05 L462.29,82.05 L462.62,82.05 L462.94,82.05 L463.27,82.05 L463.59,82.05 L463.92,82.05 L464.24,82.05 L464.57,82.05 L464.90,82.05 L465.22,82.05 L465.55,82.05 L465.87,82.05 L466.20,82.05 L466.52,82.05 L466.85,82.05 L467.17,82.05 L467.50,82.05 L467.82,82.05 L468.15,82.05 L468.47,82.05 L468.80,82.05 L469.13,82.05 L469.45,82.05 L469.78,82.05 L470.10,82.05 L470.43,82.05 L470.75,82.05 L471.08,82.05 L471.40,82.05 L471.73,82.05 L472.05,82.05 L472.38,82.05 L472.70,82.05 L473.03,82.05 L473.36,82.05 L473.68,82.05 L474.01,82.05 L474.33,82.05 L474.66,82.05 L474.98,82.05 L475.31,82.05 L475.63,82.05 L475.96,82.05 L476.28,82.05 L476.61,82.05 L476.93,82.05 L477.26,82.05 L477.58,82.05 L477.91,82.05 L478.24,82.05 L478.56,82.05 L478.89,82.05 L479.21,82.05 L479.54,82.05 L479.86,82.05 L480.19,82.05 L480.51,82.05 L480.84,82.05 L481.16,82.05 L481.49,82.05 L481.81,82.05 L482.14,82.05 L482.47,82.05 L482.79,82.05 L483.12,82.05 L483.44,82.05 L483.77,82.05 L484.09,82.05 L484.42,82.05 L484.74,82.05 L485.07,82.05 L485.39,82.05 L485.72,82.05 L486.04,82.05 L486.37,82.05 L486.70,82.05 L487.02,82.05 L487.35,82.05 L487.67,82.05 L488.00,82.05 L488.32,82.05 L488.65,82.05 L488.97,82.05 L489.30,82.05 L489.62,82.05 L489.95,82.05 L490.27,82.05 L490.60,82.05" fill="none" stroke="#df2f06" stroke-width="3.6" stroke-linejoin="round" stroke-linecap="butt"/>
</g>
<text x="418.28" y="116.20" font-size="29.5" fill="#49189e" textLength="70.18" lengthAdjust="spacingAndGlyphs">Im{ε}</text>
<text x="414.10" y="247.80" font-size="29.5" fill="#df2f06" textLength="72.11" lengthAdjust="spacingAndGlyphs">Im{μ}</text>
<text x="-1.31" y="29.50" font-size="43" fill="#000" textLength="48.33" lengthAdjust="spacingAndGlyphs">(a)</text>
<g transform="translate(249.90,368.90) scale(1.0000)" fill="#000" stroke="#000"><path d="M21.0,-24.8 C20.8,-27.2 17.0,-28.0 15.1,-24.2 C13.8,-21.5 12.8,-14 11.5,-8 C10.3,-2.5 8.5,4.5 5.5,7.3 C4.0,8.5 2.2,8.2 1.9,5.8" fill="none" stroke-width="1.1"/><path d="M14.3,-21.8 C13.3,-16.5 12.4,-11.5 11.4,-6.5 C10.5,-2.5 9.4,1.2 8.3,3.4" fill="none" stroke-width="2.5" stroke-linecap="round"/><circle cx="21.0" cy="-24.3" r="1.75" stroke="none"/><circle cx="1.9" cy="5.8" r="1.65" stroke="none"/><path d="M7.1,-16.5 L18.2,-16.5" stroke-width="1.2"/></g>
<text x="282.73" y="368.90" font-size="40" fill="#000" textLength="98.23" lengthAdjust="spacingAndGlyphs">(THz)</text>
<text x="77.80" y="295.68" font-size="40" fill="#000" textLength="243.35" lengthAdjust="spacingAndGlyphs" transform="rotate(-90 77.80 295.68)">Im{ε} &amp; Im{μ}</text>
<rect x="189.9" y="123.9" width="177.20000000000002" height="138.79999999999998" fill="#fff"/>
<line x1="189.90" y1="123.90" x2="367.10" y2="123.90" stroke="#999999" stroke-width="1" stroke-dasharray="1,3"/>
<line x1="367.10" y1="123.90" x2="367.10" y2="262.70" stroke="#999999" stroke-width="1" stroke-dasharray="1,3"/>
<line x1="189.90" y1="123.90" x2="189.90" y2="263.20" stroke="#7a7a7a" stroke-width="1"/>
<line x1="189.40" y1="262.70" x2="367.10" y2="262.70" stroke="#7a7a7a" stroke-width="1"/>
<path d="M189.90,193.49 L190.34,193.49 L190.79,193.50 L191.23,193.50 L191.68,193.51 L192.12,193.52 L192.56,193.52 L193.01,193.53 L193.45,193.54 L193.90,193.55 L194.34,193.55 L194.79,193.56 L195.23,193.57 L195.67,193.58 L196.12,193.59 L196.56,193.60 L197.01,193.60 L197.45,193.61 L197.89,193.62 L198.34,193.63 L198.78,193.64 L199.23,193.65 L199.67,193.66 L200.11,193.67 L200.56,193.68 L201.00,193.69 L201.45,193.70 L201.89,193.72 L202.34,193.73 L202.78,193.74 L203.22,193.75 L203.67,193.76 L204.11,193.78 L204.56,193.79 L205.00,193.80 L205.44,193.82 L205.89,193.83 L206.33,193.84 L206.78,193.86 L207.22,193.87 L207.66,193.89 L208.11,193.90 L208.55,193.92 L209.00,193.93 L209.44,193.95 L209.88,193.97 L210.33,193.98 L210.77,194.00 L211.22,194.02 L211.66,194.03 L212.11,194.05 L212.55,194.07 L212.99,194.09 L213.44,194.11 L213.88,194.13 L214.33,194.15 L214.77,194.17 L215.21,194.19 L215.66,194.21 L216.10,194.23 L216.55,194.25 L216.99,194.27 L217.43,194.29 L217.88,194.31 L218.32,194.34 L218.77,194.36 L219.21,194.38 L219.66,194.41 L220.10,194.43 L220.54,194.45 L220.99,194.48 L221.43,194.50 L221.88,194.53 L222.32,194.55 L222.76,194.58 L223.21,194.60 L223.65,194.63 L224.10,194.66 L224.54,194.68 L224.98,194.71 L225.43,194.74 L225.87,194.76 L226.32,194.79 L226.76,194.82 L227.21,194.85 L227.65,194.88 L228.09,194.91 L228.54,194.94 L228.98,194.97 L229.43,195.00 L229.87,195.03 L230.31,195.06 L230.76,195.09 L231.20,195.12 L231.65,195.15 L232.09,195.18 L232.53,195.21 L232.98,195.24 L233.42,195.28 L233.87,195.31 L234.31,195.34 L234.76,195.37 L235.20,195.41 L235.64,195.44 L236.09,195.47 L236.53,195.51 L236.98,195.54 L237.42,195.57 L237.86,195.61 L238.31,195.64 L238.75,195.67 L239.20,195.71 L239.64,195.74 L240.08,195.78 L240.53,195.81 L240.97,195.85 L241.42,195.88 L241.86,195.91 L242.31,195.95 L242.75,195.98 L243.19,196.02 L243.64,196.05 L244.08,196.09 L244.53,196.12 L244.97,196.16 L245.41,196.19 L245.86,196.23 L246.30,196.26 L246.75,196.29 L247.19,196.33 L247.63,196.36 L248.08,196.40 L248.52,196.43 L248.97,196.47 L249.41,196.50 L249.85,196.53 L250.30,196.57 L250.74,196.60 L251.19,196.63 L251.63,196.66 L252.08,196.70 L252.52,196.73 L252.96,196.76 L253.41,196.79 L253.85,196.82 L254.30,196.86 L254.74,196.89 L255.18,196.92 L255.63,196.95 L256.07,196.98 L256.52,197.01 L256.96,197.04 L257.40,197.07 L257.85,197.09 L258.29,197.12 L258.74,197.15 L259.18,197.18 L259.63,197.20 L260.07,197.23 L260.51,197.26 L260.96,197.28 L261.40,197.31 L261.85,197.33 L262.29,197.35 L262.73,197.38 L263.18,197.40 L263.62,197.42 L264.07,197.44 L264.51,197.47 L264.95,197.49 L265.40,197.51 L265.84,197.53 L266.29,197.55 L266.73,197.56 L267.18,197.58 L267.62,197.60 L268.06,197.62 L268.51,197.63 L268.95,197.65 L269.40,197.66 L269.84,197.68 L270.28,197.69 L270.73,197.70 L271.17,197.71 L271.62,197.72 L272.06,197.74 L272.50,197.75 L272.95,197.75 L273.39,197.76 L273.84,197.77 L274.28,197.78 L274.73,197.78 L275.17,197.79 L275.61,197.80 L276.06,197.80 L276.50,197.80 L276.95,197.81 L277.39,197.81 L277.83,197.81 L278.28,197.81 L278.72,197.81 L279.17,197.81 L279.61,197.81 L280.05,197.81 L280.50,197.80 L280.94,197.80 L281.39,197.80 L281.83,197.79 L282.27,197.78 L282.72,197.78 L283.16,197.77 L283.61,197.76 L284.05,197.75 L284.50,197.75 L284.94,197.74 L285.38,197.72 L285.83,197.71 L286.27,197.70 L286.72,197.69 L287.16,197.68 L287.60,197.66 L288.05,197.65 L288.49,197.63 L288.94,197.62 L289.38,197.60 L289.82,197.58 L290.27,197.56 L290.71,197.55 L291.16,197.53 L291.60,197.51 L292.05,197.49 L292.49,197.47 L292.93,197.44 L293.38,197.42 L293.82,197.40 L294.27,197.38 L294.71,197.35 L295.15,197.33 L295.60,197.31 L296.04,197.28 L296.49,197.26 L296.93,197.23 L297.37,197.20 L297.82,197.18 L298.26,197.15 L298.71,197.12 L299.15,197.09 L299.60,197.07 L300.04,197.04 L300.48,197.01 L300.93,196.98 L301.37,196.95 L301.82,196.92 L302.26,196.89 L302.70,196.86 L303.15,196.82 L303.59,196.79 L304.04,196.76 L304.48,196.73 L304.92,196.70 L305.37,196.66 L305.81,196.63 L306.26,196.60 L306.70,196.57 L307.15,196.53 L307.59,196.50 L308.03,196.47 L308.48,196.43 L308.92,196.40 L309.37,196.36 L309.81,196.33 L310.25,196.29 L310.70,196.26 L311.14,196.23 L311.59,196.19 L312.03,196.16 L312.47,196.12 L312.92,196.09 L313.36,196.05 L313.81,196.02 L314.25,195.98 L314.69,195.95 L315.14,195.91 L315.58,195.88 L316.03,195.85 L316.47,195.81 L316.92,195.78 L317.36,195.74 L317.80,195.71 L318.25,195.67 L318.69,195.64 L319.14,195.61 L319.58,195.57 L320.02,195.54 L320.47,195.51 L320.91,195.47 L321.36,195.44 L321.80,195.41 L322.24,195.37 L322.69,195.34 L323.13,195.31 L323.58,195.28 L324.02,195.24 L324.47,195.21 L324.91,195.18 L325.35,195.15 L325.80,195.12 L326.24,195.09 L326.69,195.06 L327.13,195.03 L327.57,195.00 L328.02,194.97 L328.46,194.94 L328.91,194.91 L329.35,194.88 L329.79,194.85 L330.24,194.82 L330.68,194.79 L331.13,194.76 L331.57,194.74 L332.02,194.71 L332.46,194.68 L332.90,194.66 L333.35,194.63 L333.79,194.60 L334.24,194.58 L334.68,194.55 L335.12,194.53 L335.57,194.50 L336.01,194.48 L336.46,194.45 L336.90,194.43 L337.34,194.41 L337.79,194.38 L338.23,194.36 L338.68,194.34 L339.12,194.31 L339.57,194.29 L340.01,194.27 L340.45,194.25 L340.90,194.23 L341.34,194.21 L341.79,194.19 L342.23,194.17 L342.67,194.15 L343.12,194.13 L343.56,194.11 L344.01,194.09 L344.45,194.07 L344.89,194.05 L345.34,194.03 L345.78,194.02 L346.23,194.00 L346.67,193.98 L347.12,193.97 L347.56,193.95 L348.00,193.93 L348.45,193.92 L348.89,193.90 L349.34,193.89 L349.78,193.87 L350.22,193.86 L350.67,193.84 L351.11,193.83 L351.56,193.82 L352.00,193.80 L352.44,193.79 L352.89,193.78 L353.33,193.76 L353.78,193.75 L354.22,193.74 L354.66,193.73 L355.11,193.72 L355.55,193.70 L356.00,193.69 L356.44,193.68 L356.89,193.67 L357.33,193.66 L357.77,193.65 L358.22,193.64 L358.66,193.63 L359.11,193.62 L359.55,193.61 L359.99,193.60 L360.44,193.60 L360.88,193.59 L361.33,193.58 L361.77,193.57 L362.21,193.56 L362.66,193.55 L363.10,193.55 L363.55,193.54 L363.99,193.53 L364.44,193.52 L364.88,193.52 L365.32,193.51 L365.77,193.50 L366.21,193.50 L366.66,193.49 L367.10,193.49" fill="none" stroke="#49189e" stroke-width="1.8" stroke-linejoin="round" stroke-linecap="butt"/>
<path d="M189.90,193.68 L190.34,193.68 L190.79,193.69 L191.23,193.69 L191.68,193.69 L192.12,193.70 L192.56,193.70 L193.01,193.71 L193.45,193.71 L193.90,193.71 L194.34,193.72 L194.79,193.72 L195.23,193.73 L195.67,193.73 L196.12,193.74 L196.56,193.74 L197.01,193.75 L197.45,193.75 L197.89,193.76 L198.34,193.76 L198.78,193.77 L199.23,193.77 L199.67,193.78 L200.11,193.78 L200.56,193.79 L201.00,193.79 L201.45,193.80 L201.89,193.80 L202.34,193.81 L202.78,193.82 L203.22,193.82 L203.67,193.83 L204.11,193.83 L204.56,193.84 L205.00,193.85 L205.44,193.85 L205.89,193.86 L206.33,193.87 L206.78,193.87 L207.22,193.88 L207.66,193.89 L208.11,193.90 L208.55,193.90 L209.00,193.91 L209.44,193.92 L209.88,193.93 L210.33,193.94 L210.77,193.94 L211.22,193.95 L211.66,193.96 L212.11,193.97 L212.55,193.98 L212.99,193.99 L213.44,194.00 L213.88,194.01 L214.33,194.02 L214.77,194.02 L215.21,194.03 L215.66,194.05 L216.10,194.06 L216.55,194.07 L216.99,194.08 L217.43,194.09 L217.88,194.10 L218.32,194.11 L218.77,194.12 L219.21,194.13 L219.66,194.15 L220.10,194.16 L220.54,194.17 L220.99,194.19 L221.43,194.20 L221.88,194.21 L222.32,194.23 L222.76,194.24 L223.21,194.26 L223.65,194.27 L224.10,194.29 L224.54,194.30 L224.98,194.32 L225.43,194.34 L225.87,194.35 L226.32,194.37 L226.76,194.39 L227.21,194.41 L227.65,194.42 L228.09,194.44 L228.54,194.46 L228.98,194.48 L229.43,194.50 L229.87,194.53 L230.31,194.55 L230.76,194.57 L231.20,194.59 L231.65,194.62 L232.09,194.64 L232.53,194.67 L232.98,194.69 L233.42,194.72 L233.87,194.74 L234.31,194.77 L234.76,194.80 L235.20,194.83 L235.64,194.86 L236.09,194.89 L236.53,194.92 L236.98,194.96 L237.42,194.99 L237.86,195.03 L238.31,195.06 L238.75,195.10 L239.20,195.14 L239.64,195.18 L240.08,195.22 L240.53,195.26 L240.97,195.30 L241.42,195.35 L241.86,195.39 L242.31,195.44 L242.75,195.49 L243.19,195.54 L243.64,195.60 L244.08,195.65 L244.53,195.71 L244.97,195.76 L245.41,195.83 L245.86,195.89 L246.30,195.95 L246.75,196.02 L247.19,196.09 L247.63,196.16 L248.08,196.24 L248.52,196.32 L248.97,196.40 L249.41,196.48 L249.85,196.57 L250.30,196.66 L250.74,196.76 L251.19,196.85 L251.63,196.96 L252.08,197.06 L252.52,197.17 L252.96,197.29 L253.41,197.41 L253.85,197.54 L254.30,197.67 L254.74,197.80 L255.18,197.95 L255.63,198.10 L256.07,198.25 L256.52,198.41 L256.96,198.58 L257.40,198.76 L257.85,198.95 L258.29,199.14 L258.74,199.35 L259.18,199.56 L259.63,199.78 L260.07,200.01 L260.51,200.26 L260.96,200.51 L261.40,200.78 L261.85,201.06 L262.29,201.36 L262.73,201.66 L263.18,201.99 L263.62,202.32 L264.07,202.68 L264.51,203.05 L264.95,203.43 L265.40,203.83 L265.84,204.25 L266.29,204.69 L266.73,205.14 L267.18,205.62 L267.62,206.11 L268.06,206.61 L268.51,207.14 L268.95,207.68 L269.40,208.23 L269.84,208.79 L270.28,209.37 L270.73,209.95 L271.17,210.54 L271.62,211.13 L272.06,211.71 L272.50,212.28 L272.95,212.85 L273.39,213.39 L273.84,213.91 L274.28,214.39 L274.73,214.84 L275.17,215.24 L275.61,215.59 L276.06,215.88 L276.50,216.12 L276.95,216.28 L277.39,216.38 L277.83,216.41 L278.28,216.37 L278.72,216.26 L279.17,216.08 L279.61,215.83 L280.05,215.53 L280.50,215.16 L280.94,214.75 L281.39,214.30 L281.83,213.81 L282.27,213.29 L282.72,212.74 L283.16,212.18 L283.61,211.60 L284.05,211.01 L284.50,210.43 L284.94,209.84 L285.38,209.26 L285.83,208.68 L286.27,208.12 L286.72,207.57 L287.16,207.04 L287.60,206.52 L288.05,206.01 L288.49,205.53 L288.94,205.06 L289.38,204.60 L289.82,204.17 L290.27,203.75 L290.71,203.36 L291.16,202.97 L291.60,202.61 L292.05,202.26 L292.49,201.92 L292.93,201.60 L293.38,201.30 L293.82,201.01 L294.27,200.73 L294.71,200.46 L295.15,200.21 L295.60,199.97 L296.04,199.74 L296.49,199.52 L296.93,199.31 L297.37,199.10 L297.82,198.91 L298.26,198.73 L298.71,198.55 L299.15,198.38 L299.60,198.22 L300.04,198.07 L300.48,197.92 L300.93,197.78 L301.37,197.64 L301.82,197.51 L302.26,197.39 L302.70,197.27 L303.15,197.15 L303.59,197.04 L304.04,196.94 L304.48,196.83 L304.92,196.74 L305.37,196.64 L305.81,196.55 L306.26,196.47 L306.70,196.38 L307.15,196.30 L307.59,196.22 L308.03,196.15 L308.48,196.08 L308.92,196.01 L309.37,195.94 L309.81,195.88 L310.25,195.81 L310.70,195.75 L311.14,195.70 L311.59,195.64 L312.03,195.58 L312.47,195.53 L312.92,195.48 L313.36,195.43 L313.81,195.38 L314.25,195.34 L314.69,195.29 L315.14,195.25 L315.58,195.21 L316.03,195.17 L316.47,195.13 L316.92,195.09 L317.36,195.05 L317.80,195.02 L318.25,194.98 L318.69,194.95 L319.14,194.92 L319.58,194.89 L320.02,194.85 L320.47,194.82 L320.91,194.80 L321.36,194.77 L321.80,194.74 L322.24,194.71 L322.69,194.69 L323.13,194.66 L323.58,194.64 L324.02,194.61 L324.47,194.59 L324.91,194.57 L325.35,194.54 L325.80,194.52 L326.24,194.50 L326.69,194.48 L327.13,194.46 L327.57,194.44 L328.02,194.42 L328.46,194.40 L328.91,194.38 L329.35,194.37 L329.79,194.35 L330.24,194.33 L330.68,194.32 L331.13,194.30 L331.57,194.28 L332.02,194.27 L332.46,194.25 L332.90,194.24 L333.35,194.22 L333.79,194.21 L334.24,194.20 L334.68,194.18 L335.12,194.17 L335.57,194.16 L336.01,194.14 L336.46,194.13 L336.90,194.12 L337.34,194.11 L337.79,194.10 L338.23,194.09 L338.68,194.07 L339.12,194.06 L339.57,194.05 L340.01,194.04 L340.45,194.03 L340.90,194.02 L341.34,194.01 L341.79,194.00 L342.23,193.99 L342.67,193.99 L343.12,193.98 L343.56,193.97 L344.01,193.96 L344.45,193.95 L344.89,193.94 L345.34,193.93 L345.78,193.93 L346.23,193.92 L346.67,193.91 L347.12,193.90 L347.56,193.89 L348.00,193.89 L348.45,193.88 L348.89,193.87 L349.34,193.87 L349.78,193.86 L350.22,193.85 L350.67,193.85 L351.11,193.84 L351.56,193.83 L352.00,193.83 L352.44,193.82 L352.89,193.82 L353.33,193.81 L353.78,193.80 L354.22,193.80 L354.66,193.79 L355.11,193.79 L355.55,193.78 L356.00,193.78 L356.44,193.77 L356.89,193.77 L357.33,193.76 L357.77,193.76 L358.22,193.75 L358.66,193.75 L359.11,193.74 L359.55,193.74 L359.99,193.73 L360.44,193.73 L360.88,193.72 L361.33,193.72 L361.77,193.71 L362.21,193.71 L362.66,193.71 L363.10,193.70 L363.55,193.70 L363.99,193.69 L364.44,193.69 L364.88,193.69 L365.32,193.68 L365.77,193.68 L366.21,193.67 L366.66,193.67 L367.10,193.67" fill="none" stroke="#df2f06" stroke-width="1.8" stroke-linejoin="round" stroke-linecap="butt"/>
<text x="170.94" y="130.10" font-size="17" fill="#000" textLength="16.59" lengthAdjust="spacingAndGlyphs">10</text>
<text x="177.75" y="199.50" font-size="17" fill="#000" textLength="9.91" lengthAdjust="spacingAndGlyphs">0</text>
<text x="160.13" y="269.30" font-size="17" fill="#000" textLength="27.44" lengthAdjust="spacingAndGlyphs">−10</text>
<text x="184.95" y="280.60" font-size="17" fill="#000" textLength="9.91" lengthAdjust="spacingAndGlyphs">0</text>
<text x="358.16" y="280.80" font-size="17" fill="#000" textLength="17.92" lengthAdjust="spacingAndGlyphs">50</text>
<g transform="translate(241.60,295.90) scale(0.5330)" fill="#000" stroke="#000"><path d="M21.0,-24.8 C20.8,-27.2 17.0,-28.0 15.1,-24.2 C13.8,-21.5 12.8,-14 11.5,-8 C10.3,-2.5 8.5,4.5 5.5,7.3 C4.0,8.5 2.2,8.2 1.9,5.8" fill="none" stroke-width="1.1"/><path d="M14.3,-21.8 C13.3,-16.5 12.4,-11.5 11.4,-6.5 C10.5,-2.5 9.4,1.2 8.3,3.4" fill="none" stroke-width="2.5" stroke-linecap="round"/><circle cx="21.0" cy="-24.3" r="1.75" stroke="none"/><circle cx="1.9" cy="5.8" r="1.65" stroke="none"/><path d="M7.1,-16.5 L18.2,-16.5" stroke-width="1.2"/></g>
<text x="258.87" y="295.90" font-size="20" fill="#000" textLength="51.45" lengthAdjust="spacingAndGlyphs">(THz)</text>
<line x1="612.40" y1="35.30" x2="612.40" y2="304.70" stroke="#7a7a7a" stroke-width="1"/>
<line x1="611.90" y1="304.20" x2="966.40" y2="304.20" stroke="#7a7a7a" stroke-width="1"/>
<line x1="612.40" y1="250.42" x2="615.40" y2="250.42" stroke="#7a7a7a" stroke-width="1"/>
<line x1="612.40" y1="196.64" x2="615.40" y2="196.64" stroke="#7a7a7a" stroke-width="1"/>
<line x1="612.40" y1="142.86" x2="615.40" y2="142.86" stroke="#7a7a7a" stroke-width="1"/>
<line x1="612.40" y1="89.08" x2="615.40" y2="89.08" stroke="#7a7a7a" stroke-width="1"/>
<line x1="612.40" y1="35.30" x2="615.40" y2="35.30" stroke="#7a7a7a" stroke-width="1"/>
<line x1="700.90" y1="304.20" x2="700.90" y2="301.20" stroke="#7a7a7a" stroke-width="1"/>
<line x1="789.40" y1="304.20" x2="789.40" y2="301.20" stroke="#7a7a7a" stroke-width="1"/>
<line x1="877.90" y1="304.20" x2="877.90" y2="301.20" stroke="#7a7a7a" stroke-width="1"/>
<line x1="966.40" y1="304.20" x2="966.40" y2="301.20" stroke="#7a7a7a" stroke-width="1"/>
<text x="607.60" y="47.50" font-size="33.5" text-anchor="end" fill="#000">1</text>
<text x="607.60" y="101.28" font-size="33.5" text-anchor="end" fill="#000">0.8</text>
<text x="607.60" y="155.06" font-size="33.5" text-anchor="end" fill="#000">0.6</text>
<text x="607.60" y="208.84" font-size="33.5" text-anchor="end" fill="#000">0.4</text>
<text x="607.60" y="262.62" font-size="33.5" text-anchor="end" fill="#000">0.2</text>
<text x="607.60" y="316.40" font-size="33.5" text-anchor="end" fill="#000">0</text>
<text x="612.00" y="338.70" font-size="33.5" text-anchor="middle" fill="#000">400</text>
<text x="700.50" y="338.70" font-size="33.5" text-anchor="middle" fill="#000">500</text>
<text x="789.00" y="338.70" font-size="33.5" text-anchor="middle" fill="#000">600</text>
<text x="877.50" y="338.70" font-size="33.5" text-anchor="middle" fill="#000">700</text>
<text x="966.00" y="338.70" font-size="33.5" text-anchor="middle" fill="#000">800</text>
<path d="M612.63,88.27 L613.52,88.47 L614.38,88.69 L615.24,88.93 L616.07,89.20 L616.90,89.50 L617.71,89.81 L618.50,90.15 L619.28,90.52 L620.05,90.90 L620.80,91.30 L621.54,91.73 L622.27,92.18 L622.98,92.64 L623.68,93.13 L624.37,93.63 L625.04,94.15 L625.71,94.69 L626.36,95.25 L627.00,95.82 L627.63,96.41 L628.24,97.01 L628.85,97.63 L629.44,98.26 L630.02,98.91 L630.59,99.57 L631.15,100.24 L631.70,100.93 L632.24,101.63 L632.77,102.34 L633.30,103.06 L633.81,103.78 L634.31,104.52 L634.80,105.27 L635.28,106.03 L635.76,106.79 L636.22,107.57 L636.68,108.34 L637.13,109.13 L637.57,109.92 L638.00,110.72 L638.43,111.52 L638.85,112.33 L639.26,113.14 L639.66,113.96 L640.06,114.78 L640.45,115.60 L640.83,116.43 L641.21,117.26 L641.58,118.10 L641.94,118.94 L642.30,119.78 L642.65,120.63 L643.00,121.48 L643.34,122.33 L643.68,123.19 L644.01,124.05 L644.34,124.91 L644.66,125.78 L644.98,126.65 L645.30,127.52 L645.61,128.40 L645.91,129.28 L646.22,130.16 L646.52,131.04 L646.82,131.92 L647.11,132.81 L647.40,133.70 L647.69,134.59 L647.98,135.49 L648.26,136.38 L648.54,137.28 L648.83,138.18 L649.10,139.08 L649.38,139.98 L649.66,140.89 L649.93,141.79 L650.21,142.70 L650.48,143.60 L650.76,144.51 L651.03,145.42 L651.30,146.33 L651.58,147.24 L651.85,148.15 L652.12,149.06 L652.40,149.98 L652.67,150.89 L652.95,151.80 L653.23,152.71 L653.51,153.63 L653.79,154.54 L654.07,155.45 L654.36,156.37 L654.64,157.28 L654.93,158.19 L655.22,159.10 L655.51,160.01 L655.80,160.92 L656.10,161.84 L656.40,162.75 L656.70,163.66 L657.00,164.56 L657.30,165.47 L657.61,166.38 L657.91,167.29 L658.22,168.20 L658.53,169.10 L658.85,170.01 L659.16,170.91 L659.48,171.81 L659.80,172.72 L660.12,173.62 L660.45,174.52 L660.77,175.42 L661.10,176.32 L661.43,177.21 L661.77,178.11 L662.10,179.00 L662.44,179.90 L662.78,180.79 L663.13,181.68 L663.47,182.57 L663.82,183.46 L664.17,184.35 L664.53,185.23 L664.88,186.11 L665.24,187.00 L665.60,187.88 L665.97,188.76 L666.33,189.63 L666.70,190.51 L667.07,191.38 L667.45,192.25 L667.83,193.12 L668.21,193.99 L668.59,194.86 L668.97,195.72 L669.36,196.58 L669.76,197.44 L670.15,198.30 L670.55,199.15 L670.95,200.01 L671.35,200.86 L671.76,201.71 L672.17,202.55 L672.58,203.40 L673.00,204.24 L673.42,205.08 L673.84,205.91 L674.26,206.75 L674.69,207.58 L675.12,208.41 L675.56,209.23 L676.00,210.06 L676.44,210.88 L676.88,211.69 L677.33,212.51 L677.78,213.32 L678.24,214.13 L678.70,214.93 L679.16,215.74 L679.62,216.54 L680.09,217.33 L680.56,218.13 L681.04,218.92 L681.52,219.70 L682.00,220.49 L682.49,221.27 L682.98,222.04 L683.47,222.82 L683.97,223.59 L684.47,224.35 L684.98,225.12 L685.49,225.88 L686.00,226.63 L686.52,227.39 L687.04,228.13 L687.56,228.88 L688.09,229.62 L688.62,230.36 L689.16,231.09 L689.70,231.82 L690.24,232.55 L690.79,233.27 L691.34,233.98 L691.90,234.70 L692.46,235.41 L693.03,236.11 L693.59,236.81 L694.17,237.51 L694.75,238.20 L695.33,238.89 L695.91,239.57 L696.50,240.25 L697.10,240.93 L697.70,241.60 L698.30,242.26 L698.91,242.92 L699.52,243.58 L700.13,244.23 L700.75,244.88 L701.38,245.52 L702.01,246.16 L702.64,246.79 L703.28,247.42 L703.93,248.04 L704.57,248.66 L705.23,249.27 L705.88,249.88 L706.55,250.48 L707.21,251.08 L707.88,251.67 L708.56,252.26 L709.24,252.84 L709.93,253.42 L710.62,253.99 L711.31,254.55 L712.01,255.12 L712.72,255.67 L713.43,256.22 L714.15,256.76 L714.87,257.30 L715.59,257.83 L716.32,258.36 L717.06,258.88 L717.80,259.40 L718.54,259.91 L719.29,260.42 L720.04,260.92 L720.80,261.41 L721.56,261.90 L722.33,262.38 L723.10,262.86 L723.88,263.34 L724.66,263.81 L725.44,264.27 L726.23,264.73 L727.02,265.18 L727.82,265.63 L728.62,266.08 L729.42,266.52 L730.23,266.95 L731.04,267.38 L731.85,267.80 L732.67,268.23 L733.49,268.64 L734.32,269.05 L735.15,269.46 L735.98,269.86 L736.82,270.26 L737.66,270.65 L738.50,271.04 L739.34,271.42 L740.19,271.80 L741.04,272.17 L741.90,272.55 L742.76,272.91 L743.62,273.27 L744.48,273.63 L745.34,273.99 L746.21,274.34 L747.08,274.68 L747.96,275.02 L748.83,275.36 L749.71,275.69 L750.59,276.02 L751.48,276.35 L752.36,276.67 L753.25,276.99 L754.14,277.30 L755.03,277.62 L755.93,277.92 L756.82,278.23 L757.72,278.53 L758.62,278.82 L759.52,279.11 L760.42,279.40 L761.33,279.69 L762.24,279.97 L763.14,280.25 L764.05,280.53 L764.96,280.80 L765.88,281.07 L766.79,281.33 L767.71,281.59 L768.62,281.85 L769.54,282.11 L770.46,282.36 L771.38,282.61 L772.30,282.86 L773.22,283.10 L774.14,283.35 L775.06,283.58 L775.99,283.82 L776.91,284.05 L777.84,284.28 L778.76,284.51 L779.69,284.73 L780.61,284.95 L781.54,285.17 L782.47,285.39 L783.40,285.60 L784.32,285.81 L785.25,286.02 L786.18,286.23 L787.11,286.43 L788.03,286.64 L788.96,286.83 L789.89,287.03 L790.82,287.23 L791.74,287.42 L792.67,287.61 L793.60,287.80 L794.52,287.98 L795.45,288.17 L796.37,288.35 L797.30,288.53 L798.22,288.71 L799.15,288.88 L800.07,289.05 L801.00,289.22 L801.92,289.39 L802.85,289.56 L803.77,289.73 L804.69,289.89 L805.62,290.05 L806.54,290.21 L807.46,290.37 L808.39,290.52 L809.31,290.67 L810.23,290.83 L811.15,290.98 L812.07,291.12 L813.00,291.27 L813.92,291.41 L814.84,291.55 L815.76,291.69 L816.68,291.83 L817.60,291.97 L818.52,292.10 L819.44,292.24 L820.36,292.37 L821.28,292.50 L822.20,292.63 L823.12,292.75 L824.04,292.88 L824.96,293.00 L825.88,293.12 L826.80,293.24 L827.72,293.36 L828.64,293.47 L829.55,293.59 L830.47,293.70 L831.39,293.81 L832.31,293.92 L833.23,294.03 L834.15,294.14 L835.07,294.24 L835.98,294.34 L836.90,294.45 L837.82,294.55 L838.74,294.65 L839.65,294.74 L840.57,294.84 L841.49,294.94 L842.41,295.03 L843.32,295.12 L844.24,295.21 L845.16,295.30 L846.08,295.39 L846.99,295.48 L847.91,295.56 L848.83,295.65 L849.74,295.73 L850.66,295.81 L851.58,295.89 L852.50,295.97 L853.41,296.05 L854.33,296.12 L855.25,296.20 L856.16,296.27 L857.08,296.35 L858.00,296.42 L858.91,296.49 L859.83,296.56 L860.75,296.63 L861.66,296.70 L862.58,296.76 L863.50,296.83 L864.41,296.89 L865.33,296.96 L866.25,297.02 L867.17,297.08 L868.08,297.14 L869.00,297.20 L869.92,297.26 L870.83,297.32 L871.75,297.37 L872.67,297.43 L873.59,297.48 L874.50,297.54 L875.42,297.59 L876.34,297.64 L877.26,297.69 L878.17,297.75 L879.09,297.79 L880.01,297.84 L880.93,297.89 L881.85,297.94 L882.76,297.99 L883.68,298.03 L884.60,298.08 L885.52,298.12 L886.44,298.17 L887.36,298.21 L888.28,298.25 L889.20,298.29 L890.11,298.33 L891.03,298.38 L891.95,298.42 L892.87,298.46 L893.79,298.49 L894.71,298.53 L895.63,298.57 L896.55,298.61 L897.47,298.64 L898.39,298.68 L899.31,298.72 L900.24,298.75 L901.16,298.79 L902.08,298.82 L903.00,298.86 L903.92,298.89 L904.84,298.92 L905.76,298.96 L906.69,298.99 L907.61,299.02 L908.53,299.05 L909.45,299.08 L910.38,299.11 L911.30,299.15 L912.22,299.18 L913.15,299.21 L914.07,299.24 L915.00,299.27 L915.92,299.30 L916.85,299.33 L917.77,299.36 L918.70,299.38 L919.62,299.41 L920.55,299.44 L921.47,299.47 L922.40,299.50 L923.32,299.53 L924.25,299.56 L925.18,299.59 L926.11,299.61 L927.03,299.64 L927.96,299.67 L928.89,299.70 L929.82,299.73 L930.75,299.76 L931.68,299.78 L932.61,299.81 L933.54,299.84 L934.47,299.87 L935.40,299.90 L936.33,299.93 L937.26,299.96 L938.19,299.99 L939.12,300.02 L940.05,300.05 L940.98,300.08 L941.92,300.11 L942.85,300.14 L943.78,300.17 L944.72,300.20 L945.65,300.23 L946.59,300.26 L947.52,300.29 L948.46,300.32 L949.39,300.35 L950.33,300.39 L951.26,300.42 L952.20,300.45 L953.14,300.49 L954.08,300.52 L955.01,300.55 L955.95,300.59 L956.89,300.62 L957.83,300.66 L958.77,300.70 L959.71,300.73 L960.65,300.77 L961.59,300.81 L962.53,300.84 L963.47,300.88 L964.42,300.92 L965.36,300.96 L966.30,301.00" fill="none" stroke="#49189e" stroke-width="3.8" stroke-linejoin="round" stroke-linecap="butt"/>
<path d="M612.60,295.50 L616.57,296.86 L620.55,298.06 L624.52,298.96 L628.50,299.44 L632.47,299.79 L636.44,300.09 L640.42,300.36 L644.39,300.50 L648.37,300.55 L652.34,300.58 L656.32,300.61 L660.29,300.64 L664.26,300.66 L668.24,300.68 L672.21,300.69 L676.19,300.71 L680.16,300.72 L684.13,300.73 L688.11,300.75 L692.08,300.76 L696.06,300.78 L700.03,300.80 L704.01,300.82 L707.98,300.85 L711.95,300.87 L715.93,300.89 L719.90,300.91 L723.88,300.93 L727.85,300.96 L731.82,300.98 L735.80,301.00 L739.77,301.02 L743.75,301.04 L747.72,301.07 L751.70,301.09 L755.67,301.11 L759.64,301.14 L763.62,301.16 L767.59,301.19 L771.57,301.22 L775.54,301.24 L779.51,301.27 L783.49,301.30 L787.46,301.34 L791.44,301.37 L795.41,301.40 L799.39,301.44 L803.36,301.48 L807.33,301.52 L811.31,301.56 L815.28,301.60 L819.26,301.66 L823.23,301.73 L827.20,301.81 L831.18,301.90 L835.15,302.00 L839.13,302.10 L843.10,302.21 L847.08,302.31 L851.05,302.42 L855.02,302.52 L859.00,302.61 L862.97,302.69 L866.95,302.76 L870.92,302.81 L874.89,302.86 L878.87,302.91 L882.84,302.96 L886.82,303.01 L890.79,303.06 L894.77,303.10 L898.74,303.15 L902.71,303.19 L906.69,303.24 L910.66,303.28 L914.64,303.32 L918.61,303.36 L922.58,303.39 L926.56,303.42 L930.53,303.46 L934.51,303.48 L938.48,303.51 L942.46,303.53 L946.43,303.55 L950.40,303.57 L954.38,303.58 L958.35,303.59 L962.33,303.60 L966.30,303.60" fill="none" stroke="#df2f06" stroke-width="3.6" stroke-linejoin="round" stroke-linecap="butt"/>
<path d="M612.80,298.80 L617.92,299.39 L623.05,299.88 L628.17,300.30 L633.29,300.73 L638.42,301.15 L643.54,301.47 L648.66,301.67 L653.79,301.85 L658.91,302.01 L664.03,302.16 L669.16,302.30 L674.28,302.42 L679.40,302.53 L684.52,302.62 L689.65,302.69 L694.77,302.75 L699.89,302.80 L705.02,302.84 L710.14,302.87 L715.26,302.90 L720.39,302.93 L725.51,302.96 L730.63,302.98 L735.76,303.01 L740.88,303.03 L746.00,303.05 L751.13,303.07 L756.25,303.09 L761.37,303.11 L766.50,303.12 L771.62,303.14 L776.74,303.15 L781.87,303.16 L786.99,303.17 L792.11,303.18 L797.23,303.19 L802.36,303.20 L807.48,303.21 L812.60,303.22 L817.73,303.23 L822.85,303.24 L827.97,303.25 L833.10,303.26 L838.22,303.27 L843.34,303.28 L848.47,303.29 L853.59,303.30 L858.71,303.30 L863.84,303.31 L868.96,303.32 L874.08,303.33 L879.21,303.33 L884.33,303.34 L889.45,303.35 L894.58,303.35 L899.70,303.36 L904.82,303.37 L909.94,303.37 L915.07,303.38 L920.19,303.38 L925.31,303.38 L930.44,303.39 L935.56,303.39 L940.68,303.39 L945.81,303.40 L950.93,303.40 L956.05,303.40 L961.18,303.40 L966.30,303.40" fill="none" stroke="#63bd0e" stroke-width="3.6" stroke-linejoin="round" stroke-linecap="butt"/>
<text x="644.41" y="119.10" font-size="29.5" fill="#49189e" textLength="121.23" lengthAdjust="spacingAndGlyphs">Uncloaked</text>
<line x1="739.40" y1="162.90" x2="774.30" y2="162.90" stroke="#df2f06" stroke-width="3.6"/>
<text x="781.95" y="174.30" font-size="29.5" fill="#df2f06" textLength="160.55" lengthAdjust="spacingAndGlyphs">Original cloak</text>
<line x1="739.80" y1="204.40" x2="773.70" y2="204.40" stroke="#63bd0e" stroke-width="3"/>
<text x="782.30" y="219.30" font-size="29.5" fill="#63bd0e" textLength="171.30" lengthAdjust="spacingAndGlyphs">Modified cloak</text>
<text x="517.45" y="29.50" font-size="43" fill="#000" textLength="51.70" lengthAdjust="spacingAndGlyphs">(b)</text>
<g transform="translate(732.30,369.00) scale(1.0000)" fill="#000" stroke="#000"><path d="M6.3,-24.4 C5.9,-27.5 9.2,-28.5 10.7,-26 C11.9,-23.5 11.9,-17 12.3,-11 C12.7,-5 14.2,1 16.5,1 C18,1 19,-1.5 19.5,-3.3" fill="none" stroke-width="1.8"/><circle cx="6.6" cy="-24.6" r="1.5" stroke="none"/><path d="M10.5,-15.2 L12.5,-13.6 L3.9,0.3 L0.6,0.3 Z" stroke="none"/></g>
<text x="764.85" y="369.00" font-size="40" fill="#000" textLength="77.19" lengthAdjust="spacingAndGlyphs">(nm)</text>
<text x="559.00" y="228.59" font-size="40" fill="#000" textLength="23.86" lengthAdjust="spacingAndGlyphs" transform="rotate(-90 559.00 228.59)">σ</text>
<text x="564.30" y="205.20" font-size="33" fill="#000" textLength="26.37" lengthAdjust="spacingAndGlyphs" transform="rotate(-90 564.30 205.20)">sc</text>
<text x="566.00" y="175.00" font-size="54" fill="#000" textLength="14.50" lengthAdjust="spacingAndGlyphs" transform="rotate(-90 566.00 175.00)">/</text>
<g transform="translate(558.30,155.90) rotate(-90) scale(1.0000)" fill="#000" stroke="#000"><path d="M6.3,-24.4 C5.9,-27.5 9.2,-28.5 10.7,-26 C11.9,-23.5 11.9,-17 12.3,-11 C12.7,-5 14.2,1 16.5,1 C18,1 19,-1.5 19.5,-3.3" fill="none" stroke-width="1.8"/><circle cx="6.6" cy="-24.6" r="1.5" stroke="none"/><path d="M10.5,-15.2 L12.5,-13.6 L3.9,0.3 L0.6,0.3 Z" stroke="none"/></g>
<text x="543.20" y="133.66" font-size="34" fill="#000" textLength="18.83" lengthAdjust="spacingAndGlyphs" transform="rotate(-90 543.20 133.66)">2</text>
<line x1="273.60" y1="407.50" x2="273.60" y2="679.00" stroke="#999999" stroke-width="1" stroke-dasharray="1,6.5"/>
<line x1="376.90" y1="407.50" x2="376.90" y2="679.00" stroke="#999999" stroke-width="1" stroke-dasharray="1,6.5"/>
<line x1="480.20" y1="407.50" x2="480.20" y2="679.00" stroke="#999999" stroke-width="1" stroke-dasharray="1,6.5"/>
<line x1="170.30" y1="475.30" x2="501.10" y2="475.30" stroke="#999999" stroke-width="1" stroke-dasharray="1,6.5"/>
<line x1="170.30" y1="543.30" x2="501.10" y2="543.30" stroke="#999999" stroke-width="1" stroke-dasharray="1,6.5"/>
<line x1="170.30" y1="611.30" x2="501.10" y2="611.30" stroke="#999999" stroke-width="1" stroke-dasharray="1,6.5"/>
<rect x="170.3" y="407.5" width="330.8" height="271.5" fill="none" stroke="#2a2a2a" stroke-width="1.1"/>
<line x1="273.60" y1="679.00" x2="273.60" y2="676.00" stroke="#2a2a2a" stroke-width="1"/>
<line x1="273.60" y1="407.50" x2="273.60" y2="410.50" stroke="#2a2a2a" stroke-width="1"/>
<line x1="376.90" y1="679.00" x2="376.90" y2="676.00" stroke="#2a2a2a" stroke-width="1"/>
<line x1="376.90" y1="407.50" x2="376.90" y2="410.50" stroke="#2a2a2a" stroke-width="1"/>
<line x1="480.20" y1="679.00" x2="480.20" y2="676.00" stroke="#2a2a2a" stroke-width="1"/>
<line x1="480.20" y1="407.50" x2="480.20" y2="410.50" stroke="#2a2a2a" stroke-width="1"/>
<line x1="170.30" y1="475.30" x2="173.30" y2="475.30" stroke="#2a2a2a" stroke-width="1"/>
<line x1="501.10" y1="475.30" x2="498.10" y2="475.30" stroke="#2a2a2a" stroke-width="1"/>
<line x1="170.30" y1="543.30" x2="173.30" y2="543.30" stroke="#2a2a2a" stroke-width="1"/>
<line x1="501.10" y1="543.30" x2="498.10" y2="543.30" stroke="#2a2a2a" stroke-width="1"/>
<line x1="170.30" y1="611.30" x2="173.30" y2="611.30" stroke="#2a2a2a" stroke-width="1"/>
<line x1="501.10" y1="611.30" x2="498.10" y2="611.30" stroke="#2a2a2a" stroke-width="1"/>
<text x="166.40" y="419.30" font-size="33.5" text-anchor="end" fill="#000">100</text>
<text x="166.40" y="487.30" font-size="33.5" text-anchor="end" fill="#000">50</text>
<text x="166.40" y="555.30" font-size="33.5" text-anchor="end" fill="#000">0</text>
<text x="166.40" y="623.30" font-size="33.5" text-anchor="end" fill="#000"><tspan dy="2.50">&#8722;</tspan><tspan dy="-2.50">50</tspan></text>
<text x="166.40" y="691.30" font-size="33.5" text-anchor="end" fill="#000"><tspan dy="2.50">&#8722;</tspan><tspan dy="-2.50">100</tspan></text>
<text x="170.90" y="714.00" font-size="33.5" text-anchor="middle" fill="#000">0</text>
<text x="274.20" y="714.00" font-size="33.5" text-anchor="middle" fill="#000">5000</text>
<text x="377.50" y="714.00" font-size="33.5" text-anchor="middle" fill="#000">10000</text>
<text x="480.80" y="714.00" font-size="33.5" text-anchor="middle" fill="#000">15000</text>
<path d="M185.30,416.90 L195.70,427.30 M185.30,427.30 L195.70,416.90" stroke="#63bd0e" stroke-width="3.2" fill="none"/>
<path d="M195.80,458.90 L206.20,469.30 M195.80,469.30 L206.20,458.90" stroke="#63bd0e" stroke-width="3.2" fill="none"/>
<path d="M205.20,417.40 L215.60,427.80 M205.20,427.80 L215.60,417.40" stroke="#63bd0e" stroke-width="3.2" fill="none"/>
<path d="M220.50,428.20 L230.90,438.60 M220.50,438.60 L230.90,428.20" stroke="#63bd0e" stroke-width="3.2" fill="none"/>
<path d="M235.90,442.30 L246.30,452.70 M235.90,452.70 L246.30,442.30" stroke="#63bd0e" stroke-width="3.2" fill="none"/>
<path d="M251.90,455.70 L262.30,466.10 M251.90,466.10 L262.30,455.70" stroke="#63bd0e" stroke-width="3.2" fill="none"/>
<path d="M266.90,467.80 L277.30,478.20 M266.90,478.20 L277.30,467.80" stroke="#63bd0e" stroke-width="3.2" fill="none"/>
<path d="M282.70,478.30 L293.10,488.70 M282.70,488.70 L293.10,478.30" stroke="#63bd0e" stroke-width="3.2" fill="none"/>
<path d="M298.40,487.50 L308.80,497.90 M298.40,497.90 L308.80,487.50" stroke="#63bd0e" stroke-width="3.2" fill="none"/>
<path d="M313.70,495.30 L324.10,505.70 M313.70,505.70 L324.10,495.30" stroke="#63bd0e" stroke-width="3.2" fill="none"/>
<path d="M329.10,501.70 L339.50,512.10 M329.10,512.10 L339.50,501.70" stroke="#63bd0e" stroke-width="3.2" fill="none"/>
<path d="M344.60,508.00 L355.00,518.40 M344.60,518.40 L355.00,508.00" stroke="#63bd0e" stroke-width="3.2" fill="none"/>
<path d="M359.90,513.00 L370.30,523.40 M359.90,523.40 L370.30,513.00" stroke="#63bd0e" stroke-width="3.2" fill="none"/>
<path d="M375.30,517.00 L385.70,527.40 M375.30,527.40 L385.70,517.00" stroke="#63bd0e" stroke-width="3.2" fill="none"/>
<path d="M390.60,520.30 L401.00,530.70 M390.60,530.70 L401.00,520.30" stroke="#63bd0e" stroke-width="3.2" fill="none"/>
<path d="M405.90,523.70 L416.30,534.10 M405.90,534.10 L416.30,523.70" stroke="#63bd0e" stroke-width="3.2" fill="none"/>
<path d="M421.20,526.30 L431.60,536.70 M421.20,536.70 L431.60,526.30" stroke="#63bd0e" stroke-width="3.2" fill="none"/>
<path d="M436.90,528.30 L447.30,538.70 M436.90,538.70 L447.30,528.30" stroke="#63bd0e" stroke-width="3.2" fill="none"/>
<path d="M452.20,529.70 L462.60,540.10 M452.20,540.10 L462.60,529.70" stroke="#63bd0e" stroke-width="3.2" fill="none"/>
<path d="M467.50,529.70 L477.90,540.10 M467.50,540.10 L477.90,529.70" stroke="#63bd0e" stroke-width="3.2" fill="none"/>
<path d="M482.80,530.30 L493.20,540.70 M482.80,540.70 L493.20,530.30" stroke="#63bd0e" stroke-width="3.2" fill="none"/>
<text x="287.61" y="453.60" font-size="30" fill="#000" textLength="192.58" lengthAdjust="spacingAndGlyphs">Stable half-plane</text>
<rect x="222.5" y="559.5" width="243.89999999999998" height="92.20000000000005" fill="#fff" stroke="#666" stroke-width="1"/>
<line x1="344.45" y1="559.50" x2="344.45" y2="651.70" stroke="#999999" stroke-width="1" stroke-dasharray="1,3"/>
<line x1="222.50" y1="605.60" x2="466.40" y2="605.60" stroke="#999999" stroke-width="1" stroke-dasharray="1,3"/>
<path d="M226.70,576.20 L233.90,583.40 M226.70,583.40 L233.90,576.20" stroke="#63bd0e" stroke-width="2.2" fill="none"/>
<path d="M256.80,587.80 L264.00,595.00 M256.80,595.00 L264.00,587.80" stroke="#63bd0e" stroke-width="2.2" fill="none"/>
<path d="M287.20,597.50 L294.40,604.70 M287.20,604.70 L294.40,597.50" stroke="#63bd0e" stroke-width="2.2" fill="none"/>
<path d="M317.50,606.00 L324.70,613.20 M317.50,613.20 L324.70,606.00" stroke="#63bd0e" stroke-width="2.2" fill="none"/>
<path d="M347.80,613.60 L355.00,620.80 M347.80,620.80 L355.00,613.60" stroke="#63bd0e" stroke-width="2.2" fill="none"/>
<path d="M378.10,618.10 L385.30,625.30 M378.10,625.30 L385.30,618.10" stroke="#63bd0e" stroke-width="2.2" fill="none"/>
<path d="M408.30,618.70 L415.50,625.90 M408.30,625.90 L415.50,618.70" stroke="#63bd0e" stroke-width="2.2" fill="none"/>
<path d="M438.70,621.50 L445.90,628.70 M438.70,628.70 L445.90,621.50" stroke="#63bd0e" stroke-width="2.2" fill="none"/>
<text x="194.75" y="569.50" font-size="24" fill="#000" textLength="26.25" lengthAdjust="spacingAndGlyphs">20</text>
<text x="207.81" y="657.00" font-size="24" fill="#000" textLength="14.27" lengthAdjust="spacingAndGlyphs">0</text>
<text x="198.44" y="674.70" font-size="24" fill="#000" textLength="61.50" lengthAdjust="spacingAndGlyphs">10000</text>
<text x="433.67" y="675.60" font-size="24" fill="#000" textLength="60.55" lengthAdjust="spacingAndGlyphs">16000</text>
<text x="-1.14" y="406.70" font-size="43" fill="#000" textLength="46.37" lengthAdjust="spacingAndGlyphs">(c)</text>
<text x="230.38" y="745.30" font-size="38.5" fill="#000" textLength="61.63" lengthAdjust="spacingAndGlyphs">Re{</text>
<g transform="translate(286.70,745.30) scale(1.0220)" fill="#000" stroke="#000"><path d="M21.0,-24.8 C20.8,-27.2 17.0,-28.0 15.1,-24.2 C13.8,-21.5 12.8,-14 11.5,-8 C10.3,-2.5 8.5,4.5 5.5,7.3 C4.0,8.5 2.2,8.2 1.9,5.8" fill="none" stroke-width="1.1"/><path d="M14.3,-21.8 C13.3,-16.5 12.4,-11.5 11.4,-6.5 C10.5,-2.5 9.4,1.2 8.3,3.4" fill="none" stroke-width="2.5" stroke-linecap="round"/><circle cx="21.0" cy="-24.3" r="1.75" stroke="none"/><circle cx="1.9" cy="5.8" r="1.65" stroke="none"/><path d="M7.1,-16.5 L18.2,-16.5" stroke-width="1.2"/></g>
<text x="307.95" y="745.30" font-size="38.5" fill="#000" textLength="19.31" lengthAdjust="spacingAndGlyphs">}</text>
<text x="336.61" y="745.60" font-size="40" fill="#000" textLength="99.58" lengthAdjust="spacingAndGlyphs">(THz)</text>
<text x="89.00" y="695.92" font-size="40" fill="#000" textLength="43.74" lengthAdjust="spacingAndGlyphs" transform="rotate(-90 89.00 695.92)">Im</text>
<text x="89.00" y="651.47" font-size="42.6" fill="#000" textLength="16.73" lengthAdjust="spacingAndGlyphs" transform="rotate(-90 89.00 651.47)">{</text>
<g transform="translate(89.00,636.50) rotate(-90) scale(1.0000)" fill="#000" stroke="#000"><path d="M21.0,-24.8 C20.8,-27.2 17.0,-28.0 15.1,-24.2 C13.8,-21.5 12.8,-14 11.5,-8 C10.3,-2.5 8.5,4.5 5.5,7.3 C4.0,8.5 2.2,8.2 1.9,5.8" fill="none" stroke-width="1.1"/><path d="M14.3,-21.8 C13.3,-16.5 12.4,-11.5 11.4,-6.5 C10.5,-2.5 9.4,1.2 8.3,3.4" fill="none" stroke-width="2.5" stroke-linecap="round"/><circle cx="21.0" cy="-24.3" r="1.75" stroke="none"/><circle cx="1.9" cy="5.8" r="1.65" stroke="none"/><path d="M7.1,-16.5 L18.2,-16.5" stroke-width="1.2"/></g>
<text x="89.00" y="618.31" font-size="42.6" fill="#000" textLength="18.02" lengthAdjust="spacingAndGlyphs" transform="rotate(-90 89.00 618.31)">}</text>
<line x1="69.70" y1="567.10" x2="87.60" y2="585.00" stroke="#000" stroke-width="1.5"/>
<line x1="69.70" y1="585.00" x2="87.60" y2="567.10" stroke="#000" stroke-width="1.5"/>
<text x="88.10" y="552.91" font-size="38.5" fill="#000" textLength="43.36" lengthAdjust="spacingAndGlyphs" transform="rotate(-90 88.10 552.91)">10</text>
<text x="74.40" y="513.68" font-size="34.4" fill="#000" textLength="36.18" lengthAdjust="spacingAndGlyphs" transform="rotate(-90 74.40 513.68)">12</text>
<text x="88.20" y="468.40" font-size="40" fill="#000" textLength="75.00" lengthAdjust="spacingAndGlyphs" transform="rotate(-90 88.20 468.40)">(Hz)</text>
<line x1="671.34" y1="410.30" x2="671.34" y2="681.40" stroke="#999999" stroke-width="1" stroke-dasharray="1,6.5"/>
<line x1="713.58" y1="410.30" x2="713.58" y2="681.40" stroke="#999999" stroke-width="1" stroke-dasharray="1,6.5"/>
<line x1="755.82" y1="410.30" x2="755.82" y2="681.40" stroke="#999999" stroke-width="1" stroke-dasharray="1,6.5"/>
<line x1="798.06" y1="410.30" x2="798.06" y2="681.40" stroke="#999999" stroke-width="1" stroke-dasharray="1,6.5"/>
<line x1="840.30" y1="410.30" x2="840.30" y2="681.40" stroke="#999999" stroke-width="1" stroke-dasharray="1,6.5"/>
<line x1="882.54" y1="410.30" x2="882.54" y2="681.40" stroke="#999999" stroke-width="1" stroke-dasharray="1,6.5"/>
<line x1="924.78" y1="410.30" x2="924.78" y2="681.40" stroke="#999999" stroke-width="1" stroke-dasharray="1,6.5"/>
<line x1="967.02" y1="410.30" x2="967.02" y2="681.40" stroke="#999999" stroke-width="1" stroke-dasharray="1,6.5"/>
<line x1="629.10" y1="410.30" x2="967.02" y2="410.30" stroke="#999999" stroke-width="1" stroke-dasharray="1,6.5"/>
<line x1="629.10" y1="444.20" x2="967.02" y2="444.20" stroke="#999999" stroke-width="1" stroke-dasharray="1,6.5"/>
<line x1="629.10" y1="478.10" x2="967.02" y2="478.10" stroke="#999999" stroke-width="1" stroke-dasharray="1,6.5"/>
<line x1="629.10" y1="512.00" x2="967.02" y2="512.00" stroke="#999999" stroke-width="1" stroke-dasharray="1,6.5"/>
<line x1="629.10" y1="545.90" x2="967.02" y2="545.90" stroke="#999999" stroke-width="1" stroke-dasharray="1,6.5"/>
<line x1="629.10" y1="579.80" x2="967.02" y2="579.80" stroke="#999999" stroke-width="1" stroke-dasharray="1,6.5"/>
<line x1="629.10" y1="613.70" x2="967.02" y2="613.70" stroke="#999999" stroke-width="1" stroke-dasharray="1,6.5"/>
<line x1="629.10" y1="647.60" x2="967.02" y2="647.60" stroke="#999999" stroke-width="1" stroke-dasharray="1,6.5"/>
<line x1="629.10" y1="410.30" x2="629.10" y2="681.90" stroke="#7a7a7a" stroke-width="1"/>
<line x1="628.60" y1="681.40" x2="967.02" y2="681.40" stroke="#7a7a7a" stroke-width="1"/>
<line x1="671.34" y1="681.40" x2="671.34" y2="678.40" stroke="#7a7a7a" stroke-width="1"/>
<line x1="713.58" y1="681.40" x2="713.58" y2="678.40" stroke="#7a7a7a" stroke-width="1"/>
<line x1="755.82" y1="681.40" x2="755.82" y2="678.40" stroke="#7a7a7a" stroke-width="1"/>
<line x1="798.06" y1="681.40" x2="798.06" y2="678.40" stroke="#7a7a7a" stroke-width="1"/>
<line x1="840.30" y1="681.40" x2="840.30" y2="678.40" stroke="#7a7a7a" stroke-width="1"/>
<line x1="882.54" y1="681.40" x2="882.54" y2="678.40" stroke="#7a7a7a" stroke-width="1"/>
<line x1="924.78" y1="681.40" x2="924.78" y2="678.40" stroke="#7a7a7a" stroke-width="1"/>
<line x1="967.02" y1="681.40" x2="967.02" y2="678.40" stroke="#7a7a7a" stroke-width="1"/>
<line x1="629.10" y1="410.30" x2="632.10" y2="410.30" stroke="#7a7a7a" stroke-width="1"/>
<line x1="629.10" y1="444.20" x2="632.10" y2="444.20" stroke="#7a7a7a" stroke-width="1"/>
<line x1="629.10" y1="478.10" x2="632.10" y2="478.10" stroke="#7a7a7a" stroke-width="1"/>
<line x1="629.10" y1="512.00" x2="632.10" y2="512.00" stroke="#7a7a7a" stroke-width="1"/>
<line x1="629.10" y1="545.90" x2="632.10" y2="545.90" stroke="#7a7a7a" stroke-width="1"/>
<line x1="629.10" y1="579.80" x2="632.10" y2="579.80" stroke="#7a7a7a" stroke-width="1"/>
<line x1="629.10" y1="613.70" x2="632.10" y2="613.70" stroke="#7a7a7a" stroke-width="1"/>
<line x1="629.10" y1="647.60" x2="632.10" y2="647.60" stroke="#7a7a7a" stroke-width="1"/>
<text x="623.80" y="422.50" font-size="33.5" text-anchor="end" fill="#000">0.3</text>
<text x="623.80" y="456.40" font-size="33.5" text-anchor="end" fill="#000">0.2</text>
<text x="623.80" y="490.30" font-size="33.5" text-anchor="end" fill="#000">0.1</text>
<text x="623.80" y="524.20" font-size="33.5" text-anchor="end" fill="#000">0</text>
<text x="623.80" y="558.10" font-size="33.5" text-anchor="end" fill="#000"><tspan dy="2.50">&#8722;</tspan><tspan dy="-2.50">0.1</tspan></text>
<text x="623.80" y="592.00" font-size="33.5" text-anchor="end" fill="#000"><tspan dy="2.50">&#8722;</tspan><tspan dy="-2.50">0.2</tspan></text>
<text x="623.80" y="625.90" font-size="33.5" text-anchor="end" fill="#000"><tspan dy="2.50">&#8722;</tspan><tspan dy="-2.50">0.3</tspan></text>
<text x="623.80" y="659.80" font-size="33.5" text-anchor="end" fill="#000"><tspan dy="2.50">&#8722;</tspan><tspan dy="-2.50">0.4</tspan></text>
<text x="623.80" y="693.70" font-size="33.5" text-anchor="end" fill="#000"><tspan dy="2.50">&#8722;</tspan><tspan dy="-2.50">0.5</tspan></text>
<text x="629.10" y="715.40" font-size="33.5" text-anchor="middle" fill="#000">350</text>
<text x="713.58" y="715.40" font-size="33.5" text-anchor="middle" fill="#000">450</text>
<text x="798.06" y="715.40" font-size="33.5" text-anchor="middle" fill="#000">550</text>
<text x="882.54" y="715.40" font-size="33.5" text-anchor="middle" fill="#000">650</text>
<text x="967.02" y="715.40" font-size="33.5" text-anchor="middle" fill="#000">750</text>
<path d="M629.10,444.10 L630.80,444.46 L632.50,444.83 L634.19,445.21 L635.89,445.61 L637.59,446.02 L639.29,446.44 L640.99,446.87 L642.68,447.31 L644.38,447.77 L646.08,448.23 L647.78,448.71 L649.48,449.20 L651.18,449.70 L652.87,450.21 L654.57,450.73 L656.27,451.26 L657.97,451.80 L659.67,452.35 L661.36,452.91 L663.06,453.48 L664.76,454.07 L666.46,454.66 L668.16,455.26 L669.85,455.86 L671.55,456.48 L673.25,457.11 L674.95,457.74 L676.65,458.39 L678.34,459.04 L680.04,459.70 L681.74,460.37 L683.44,461.05 L685.14,461.73 L686.84,462.42 L688.53,463.12 L690.23,463.83 L691.93,464.54 L693.63,465.26 L695.33,465.99 L697.02,466.72 L698.72,467.46 L700.42,468.21 L702.12,468.97 L703.82,469.72 L705.51,470.49 L707.21,471.26 L708.91,472.04 L710.61,472.82 L712.31,473.61 L714.00,474.40 L715.70,475.20 L717.40,476.00 L719.10,476.81 L720.80,477.62 L722.49,478.44 L724.19,479.26 L725.89,480.08 L727.59,480.91 L729.29,481.75 L730.99,482.59 L732.68,483.43 L734.38,484.28 L736.08,485.13 L737.78,485.99 L739.48,486.85 L741.17,487.71 L742.87,488.58 L744.57,489.45 L746.27,490.33 L747.97,491.21 L749.66,492.09 L751.36,492.98 L753.06,493.87 L754.76,494.76 L756.46,495.66 L758.15,496.56 L759.85,497.46 L761.55,498.37 L763.25,499.28 L764.95,500.19 L766.65,501.11 L768.34,502.04 L770.04,502.96 L771.74,503.89 L773.44,504.83 L775.14,505.77 L776.83,506.72 L778.53,507.67 L780.23,508.62 L781.93,509.58 L783.63,510.55 L785.32,511.52 L787.02,512.49 L788.72,513.48 L790.42,514.46 L792.12,515.46 L793.81,516.46 L795.51,517.46 L797.21,518.47 L798.91,519.49 L800.61,520.52 L802.31,521.55 L804.00,522.59 L805.70,523.63 L807.40,524.69 L809.10,525.75 L810.80,526.81 L812.49,527.89 L814.19,528.97 L815.89,530.06 L817.59,531.15 L819.29,532.26 L820.98,533.37 L822.68,534.49 L824.38,535.62 L826.08,536.76 L827.78,537.90 L829.47,539.05 L831.17,540.22 L832.87,541.39 L834.57,542.57 L836.27,543.75 L837.97,544.95 L839.66,546.16 L841.36,547.37 L843.06,548.60 L844.76,549.83 L846.46,551.07 L848.15,552.33 L849.85,553.59 L851.55,554.87 L853.25,556.15 L854.95,557.44 L856.64,558.75 L858.34,560.07 L860.04,561.39 L861.74,562.73 L863.44,564.08 L865.13,565.44 L866.83,566.82 L868.53,568.20 L870.23,569.60 L871.93,571.01 L873.63,572.43 L875.32,573.86 L877.02,575.31 L878.72,576.77 L880.42,578.24 L882.12,579.73 L883.81,581.23 L885.51,582.75 L887.21,584.27 L888.91,585.82 L890.61,587.37 L892.30,588.95 L894.00,590.53 L895.70,592.14 L897.40,593.76 L899.10,595.40 L900.79,597.05 L902.49,598.73 L904.19,600.42 L905.89,602.13 L907.59,603.86 L909.28,605.60 L910.98,607.37 L912.68,609.16 L914.38,610.97 L916.08,612.80 L917.78,614.65 L919.47,616.52 L921.17,618.41 L922.87,620.33 L924.57,622.27 L926.27,624.23 L927.96,626.22 L929.66,628.23 L931.36,630.26 L933.06,632.32 L934.76,634.41 L936.45,636.52 L938.15,638.65 L939.85,640.82 L941.55,643.01 L943.25,645.22 L944.94,647.47 L946.64,649.74 L948.34,652.04 L950.04,654.37 L951.74,656.73 L953.44,659.12 L955.13,661.53 L956.83,663.98 L958.53,666.46 L960.23,668.97 L961.93,671.51 L963.62,674.09 L965.32,676.69 L967.02,679.33" fill="none" stroke="#49189e" stroke-width="3.8" stroke-linejoin="round" stroke-linecap="butt"/>
<text x="517.99" y="406.50" font-size="43" fill="#000" textLength="50.62" lengthAdjust="spacingAndGlyphs">(d)</text>
<g transform="translate(726.10,746.00) scale(1.0308)" fill="#000" stroke="#000"><path d="M21.0,-24.8 C20.8,-27.2 17.0,-28.0 15.1,-24.2 C13.8,-21.5 12.8,-14 11.5,-8 C10.3,-2.5 8.5,4.5 5.5,7.3 C4.0,8.5 2.2,8.2 1.9,5.8" fill="none" stroke-width="1.1"/><path d="M14.3,-21.8 C13.3,-16.5 12.4,-11.5 11.4,-6.5 C10.5,-2.5 9.4,1.2 8.3,3.4" fill="none" stroke-width="2.5" stroke-linecap="round"/><circle cx="21.0" cy="-24.3" r="1.75" stroke="none"/><circle cx="1.9" cy="5.8" r="1.65" stroke="none"/><path d="M7.1,-16.5 L18.2,-16.5" stroke-width="1.2"/></g>
<text x="759.08" y="746.00" font-size="40" fill="#000" textLength="101.24" lengthAdjust="spacingAndGlyphs">(THz)</text>
<text x="549.20" y="668.79" font-size="40" fill="#000" textLength="195.69" lengthAdjust="spacingAndGlyphs" transform="rotate(-90 549.20 668.79)">Real part of</text>
<text x="549.20" y="465.61" font-size="40" fill="#000" font-style="italic" textLength="21.17" lengthAdjust="spacingAndGlyphs" transform="rotate(-90 549.20 465.61)">n</text>
<text x="554.90" y="445.02" font-size="32.6" fill="#000" font-style="italic" textLength="16.91" lengthAdjust="spacingAndGlyphs" transform="rotate(-90 554.90 445.02)">g</text>
</svg>
</body></html>
